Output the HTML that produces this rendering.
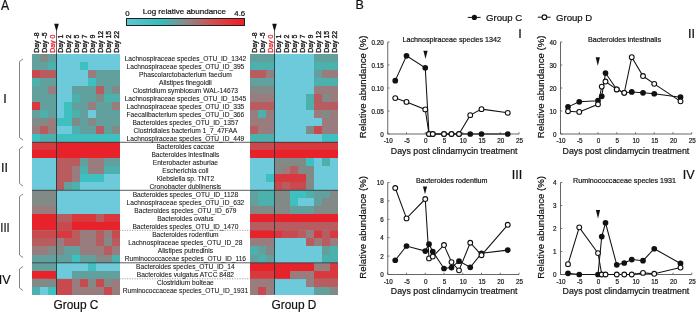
<!DOCTYPE html><html><head><meta charset="utf-8"><style>html,body{margin:0;padding:0;background:#fff;width:696px;height:312px;overflow:hidden}svg{display:block;will-change:transform}text{font-family:"Liberation Sans", sans-serif;stroke:#111;stroke-width:0.2px}</style></head><body>
<svg width="696" height="312" viewBox="0 0 696 312">
<defs><linearGradient id="cb" x1="0" x2="1" y1="0" y2="0"><stop offset="0" stop-color="#5fc6d2"/><stop offset="0.3" stop-color="#33bdb9"/><stop offset="0.5" stop-color="#8a8a8a"/><stop offset="0.75" stop-color="#d84a4a"/><stop offset="1" stop-color="#f41a22"/></linearGradient></defs>
<rect width="696" height="312" fill="#fff"/>
<text transform="translate(1,9.9) scale(0.88,1)" font-size="13.9" fill="#111">A</text>
<rect x="126.5" y="18.5" width="118" height="7" fill="url(#cb)" stroke="#222" stroke-width="1"/>
<text x="125.3" y="16" font-size="7.8" fill="#111">0</text>
<text x="142.8" y="14.2" font-size="8" fill="#111">Log relative abundance</text>
<text x="245.2" y="16" font-size="7.8" fill="#111" text-anchor="end">4.6</text>
<rect x="32" y="54.00" width="8" height="8.62" fill="#62a09e" shape-rendering="crispEdges"/>
<rect x="40" y="54.00" width="8" height="8.62" fill="#828a88" shape-rendering="crispEdges"/>
<rect x="48" y="54.00" width="8" height="8.62" fill="#62a09e" shape-rendering="crispEdges"/>
<rect x="56" y="54.00" width="8" height="8.62" fill="#6dcadb" shape-rendering="crispEdges"/>
<rect x="64" y="54.00" width="8" height="8.62" fill="#6dcadb" shape-rendering="crispEdges"/>
<rect x="72" y="54.00" width="8" height="8.62" fill="#6dcadb" shape-rendering="crispEdges"/>
<rect x="80" y="54.00" width="8" height="8.62" fill="#6dcadb" shape-rendering="crispEdges"/>
<rect x="88" y="54.00" width="8" height="8.62" fill="#6dcadb" shape-rendering="crispEdges"/>
<rect x="96" y="54.00" width="8" height="8.62" fill="#6dcadb" shape-rendering="crispEdges"/>
<rect x="104" y="54.00" width="8" height="8.62" fill="#6dcadb" shape-rendering="crispEdges"/>
<rect x="112" y="54.00" width="8" height="8.62" fill="#6dcadb" shape-rendering="crispEdges"/>
<rect x="32" y="62.02" width="8" height="8.62" fill="#62a09e" shape-rendering="crispEdges"/>
<rect x="40" y="62.02" width="8" height="8.62" fill="#62a09e" shape-rendering="crispEdges"/>
<rect x="48" y="62.02" width="8" height="8.62" fill="#4cb0ac" shape-rendering="crispEdges"/>
<rect x="56" y="62.02" width="8" height="8.62" fill="#6dcadb" shape-rendering="crispEdges"/>
<rect x="64" y="62.02" width="8" height="8.62" fill="#6dcadb" shape-rendering="crispEdges"/>
<rect x="72" y="62.02" width="8" height="8.62" fill="#6dcadb" shape-rendering="crispEdges"/>
<rect x="80" y="62.02" width="8" height="8.62" fill="#3ebfc0" shape-rendering="crispEdges"/>
<rect x="88" y="62.02" width="8" height="8.62" fill="#6dcadb" shape-rendering="crispEdges"/>
<rect x="96" y="62.02" width="8" height="8.62" fill="#6dcadb" shape-rendering="crispEdges"/>
<rect x="104" y="62.02" width="8" height="8.62" fill="#6dcadb" shape-rendering="crispEdges"/>
<rect x="112" y="62.02" width="8" height="8.62" fill="#6dcadb" shape-rendering="crispEdges"/>
<rect x="32" y="70.04" width="8" height="8.62" fill="#c84a4e" shape-rendering="crispEdges"/>
<rect x="40" y="70.04" width="8" height="8.62" fill="#b85c60" shape-rendering="crispEdges"/>
<rect x="48" y="70.04" width="8" height="8.62" fill="#b85c60" shape-rendering="crispEdges"/>
<rect x="56" y="70.04" width="8" height="8.62" fill="#6dcadb" shape-rendering="crispEdges"/>
<rect x="64" y="70.04" width="8" height="8.62" fill="#6dcadb" shape-rendering="crispEdges"/>
<rect x="72" y="70.04" width="8" height="8.62" fill="#6dcadb" shape-rendering="crispEdges"/>
<rect x="80" y="70.04" width="8" height="8.62" fill="#6dcadb" shape-rendering="crispEdges"/>
<rect x="88" y="70.04" width="8" height="8.62" fill="#987c7e" shape-rendering="crispEdges"/>
<rect x="96" y="70.04" width="8" height="8.62" fill="#62a09e" shape-rendering="crispEdges"/>
<rect x="104" y="70.04" width="8" height="8.62" fill="#62a09e" shape-rendering="crispEdges"/>
<rect x="112" y="70.04" width="8" height="8.62" fill="#62a09e" shape-rendering="crispEdges"/>
<rect x="32" y="78.06" width="8" height="8.62" fill="#4cb0ac" shape-rendering="crispEdges"/>
<rect x="40" y="78.06" width="8" height="8.62" fill="#62a09e" shape-rendering="crispEdges"/>
<rect x="48" y="78.06" width="8" height="8.62" fill="#62a09e" shape-rendering="crispEdges"/>
<rect x="56" y="78.06" width="8" height="8.62" fill="#6dcadb" shape-rendering="crispEdges"/>
<rect x="64" y="78.06" width="8" height="8.62" fill="#6dcadb" shape-rendering="crispEdges"/>
<rect x="72" y="78.06" width="8" height="8.62" fill="#6dcadb" shape-rendering="crispEdges"/>
<rect x="80" y="78.06" width="8" height="8.62" fill="#6dcadb" shape-rendering="crispEdges"/>
<rect x="88" y="78.06" width="8" height="8.62" fill="#3ebfc0" shape-rendering="crispEdges"/>
<rect x="96" y="78.06" width="8" height="8.62" fill="#62a09e" shape-rendering="crispEdges"/>
<rect x="104" y="78.06" width="8" height="8.62" fill="#62a09e" shape-rendering="crispEdges"/>
<rect x="112" y="78.06" width="8" height="8.62" fill="#62a09e" shape-rendering="crispEdges"/>
<rect x="32" y="86.08" width="8" height="8.62" fill="#62a09e" shape-rendering="crispEdges"/>
<rect x="40" y="86.08" width="8" height="8.62" fill="#62a09e" shape-rendering="crispEdges"/>
<rect x="48" y="86.08" width="8" height="8.62" fill="#987c7e" shape-rendering="crispEdges"/>
<rect x="56" y="86.08" width="8" height="8.62" fill="#6dcadb" shape-rendering="crispEdges"/>
<rect x="64" y="86.08" width="8" height="8.62" fill="#6dcadb" shape-rendering="crispEdges"/>
<rect x="72" y="86.08" width="8" height="8.62" fill="#62a09e" shape-rendering="crispEdges"/>
<rect x="80" y="86.08" width="8" height="8.62" fill="#62a09e" shape-rendering="crispEdges"/>
<rect x="88" y="86.08" width="8" height="8.62" fill="#62a09e" shape-rendering="crispEdges"/>
<rect x="96" y="86.08" width="8" height="8.62" fill="#b85c60" shape-rendering="crispEdges"/>
<rect x="104" y="86.08" width="8" height="8.62" fill="#62a09e" shape-rendering="crispEdges"/>
<rect x="112" y="86.08" width="8" height="8.62" fill="#828a88" shape-rendering="crispEdges"/>
<rect x="32" y="94.10" width="8" height="8.62" fill="#62a09e" shape-rendering="crispEdges"/>
<rect x="40" y="94.10" width="8" height="8.62" fill="#62a09e" shape-rendering="crispEdges"/>
<rect x="48" y="94.10" width="8" height="8.62" fill="#62a09e" shape-rendering="crispEdges"/>
<rect x="56" y="94.10" width="8" height="8.62" fill="#6dcadb" shape-rendering="crispEdges"/>
<rect x="64" y="94.10" width="8" height="8.62" fill="#6dcadb" shape-rendering="crispEdges"/>
<rect x="72" y="94.10" width="8" height="8.62" fill="#4cb0ac" shape-rendering="crispEdges"/>
<rect x="80" y="94.10" width="8" height="8.62" fill="#62a09e" shape-rendering="crispEdges"/>
<rect x="88" y="94.10" width="8" height="8.62" fill="#62a09e" shape-rendering="crispEdges"/>
<rect x="96" y="94.10" width="8" height="8.62" fill="#828a88" shape-rendering="crispEdges"/>
<rect x="104" y="94.10" width="8" height="8.62" fill="#4cb0ac" shape-rendering="crispEdges"/>
<rect x="112" y="94.10" width="8" height="8.62" fill="#4cb0ac" shape-rendering="crispEdges"/>
<rect x="32" y="102.12" width="8" height="8.62" fill="#d8383e" shape-rendering="crispEdges"/>
<rect x="40" y="102.12" width="8" height="8.62" fill="#62a09e" shape-rendering="crispEdges"/>
<rect x="48" y="102.12" width="8" height="8.62" fill="#62a09e" shape-rendering="crispEdges"/>
<rect x="56" y="102.12" width="8" height="8.62" fill="#6dcadb" shape-rendering="crispEdges"/>
<rect x="64" y="102.12" width="8" height="8.62" fill="#3ebfc0" shape-rendering="crispEdges"/>
<rect x="72" y="102.12" width="8" height="8.62" fill="#62a09e" shape-rendering="crispEdges"/>
<rect x="80" y="102.12" width="8" height="8.62" fill="#62a09e" shape-rendering="crispEdges"/>
<rect x="88" y="102.12" width="8" height="8.62" fill="#987c7e" shape-rendering="crispEdges"/>
<rect x="96" y="102.12" width="8" height="8.62" fill="#62a09e" shape-rendering="crispEdges"/>
<rect x="104" y="102.12" width="8" height="8.62" fill="#62a09e" shape-rendering="crispEdges"/>
<rect x="112" y="102.12" width="8" height="8.62" fill="#987c7e" shape-rendering="crispEdges"/>
<rect x="32" y="110.14" width="8" height="8.62" fill="#62a09e" shape-rendering="crispEdges"/>
<rect x="40" y="110.14" width="8" height="8.62" fill="#4cb0ac" shape-rendering="crispEdges"/>
<rect x="48" y="110.14" width="8" height="8.62" fill="#62a09e" shape-rendering="crispEdges"/>
<rect x="56" y="110.14" width="8" height="8.62" fill="#6dcadb" shape-rendering="crispEdges"/>
<rect x="64" y="110.14" width="8" height="8.62" fill="#3ebfc0" shape-rendering="crispEdges"/>
<rect x="72" y="110.14" width="8" height="8.62" fill="#4cb0ac" shape-rendering="crispEdges"/>
<rect x="80" y="110.14" width="8" height="8.62" fill="#62a09e" shape-rendering="crispEdges"/>
<rect x="88" y="110.14" width="8" height="8.62" fill="#6dcadb" shape-rendering="crispEdges"/>
<rect x="96" y="110.14" width="8" height="8.62" fill="#62a09e" shape-rendering="crispEdges"/>
<rect x="104" y="110.14" width="8" height="8.62" fill="#62a09e" shape-rendering="crispEdges"/>
<rect x="112" y="110.14" width="8" height="8.62" fill="#62a09e" shape-rendering="crispEdges"/>
<rect x="32" y="118.16" width="8" height="8.62" fill="#828a88" shape-rendering="crispEdges"/>
<rect x="40" y="118.16" width="8" height="8.62" fill="#828a88" shape-rendering="crispEdges"/>
<rect x="48" y="118.16" width="8" height="8.62" fill="#987c7e" shape-rendering="crispEdges"/>
<rect x="56" y="118.16" width="8" height="8.62" fill="#3ebfc0" shape-rendering="crispEdges"/>
<rect x="64" y="118.16" width="8" height="8.62" fill="#3ebfc0" shape-rendering="crispEdges"/>
<rect x="72" y="118.16" width="8" height="8.62" fill="#828a88" shape-rendering="crispEdges"/>
<rect x="80" y="118.16" width="8" height="8.62" fill="#62a09e" shape-rendering="crispEdges"/>
<rect x="88" y="118.16" width="8" height="8.62" fill="#828a88" shape-rendering="crispEdges"/>
<rect x="96" y="118.16" width="8" height="8.62" fill="#62a09e" shape-rendering="crispEdges"/>
<rect x="104" y="118.16" width="8" height="8.62" fill="#62a09e" shape-rendering="crispEdges"/>
<rect x="112" y="118.16" width="8" height="8.62" fill="#62a09e" shape-rendering="crispEdges"/>
<rect x="32" y="126.18" width="8" height="8.62" fill="#987c7e" shape-rendering="crispEdges"/>
<rect x="40" y="126.18" width="8" height="8.62" fill="#b85c60" shape-rendering="crispEdges"/>
<rect x="48" y="126.18" width="8" height="8.62" fill="#987c7e" shape-rendering="crispEdges"/>
<rect x="56" y="126.18" width="8" height="8.62" fill="#6dcadb" shape-rendering="crispEdges"/>
<rect x="64" y="126.18" width="8" height="8.62" fill="#6dcadb" shape-rendering="crispEdges"/>
<rect x="72" y="126.18" width="8" height="8.62" fill="#4cb0ac" shape-rendering="crispEdges"/>
<rect x="80" y="126.18" width="8" height="8.62" fill="#62a09e" shape-rendering="crispEdges"/>
<rect x="88" y="126.18" width="8" height="8.62" fill="#62a09e" shape-rendering="crispEdges"/>
<rect x="96" y="126.18" width="8" height="8.62" fill="#b85c60" shape-rendering="crispEdges"/>
<rect x="104" y="126.18" width="8" height="8.62" fill="#62a09e" shape-rendering="crispEdges"/>
<rect x="112" y="126.18" width="8" height="8.62" fill="#828a88" shape-rendering="crispEdges"/>
<rect x="32" y="134.20" width="8" height="8.62" fill="#3ebfc0" shape-rendering="crispEdges"/>
<rect x="40" y="134.20" width="8" height="8.62" fill="#4cb0ac" shape-rendering="crispEdges"/>
<rect x="48" y="134.20" width="8" height="8.62" fill="#4cb0ac" shape-rendering="crispEdges"/>
<rect x="56" y="134.20" width="8" height="8.62" fill="#3ebfc0" shape-rendering="crispEdges"/>
<rect x="64" y="134.20" width="8" height="8.62" fill="#3ebfc0" shape-rendering="crispEdges"/>
<rect x="72" y="134.20" width="8" height="8.62" fill="#3ebfc0" shape-rendering="crispEdges"/>
<rect x="80" y="134.20" width="8" height="8.62" fill="#3ebfc0" shape-rendering="crispEdges"/>
<rect x="88" y="134.20" width="8" height="8.62" fill="#3ebfc0" shape-rendering="crispEdges"/>
<rect x="96" y="134.20" width="8" height="8.62" fill="#3ebfc0" shape-rendering="crispEdges"/>
<rect x="104" y="134.20" width="8" height="8.62" fill="#3ebfc0" shape-rendering="crispEdges"/>
<rect x="112" y="134.20" width="8" height="8.62" fill="#3ebfc0" shape-rendering="crispEdges"/>
<rect x="32" y="142.22" width="8" height="8.62" fill="#d8383e" shape-rendering="crispEdges"/>
<rect x="40" y="142.22" width="8" height="8.62" fill="#d8383e" shape-rendering="crispEdges"/>
<rect x="48" y="142.22" width="8" height="8.62" fill="#d8383e" shape-rendering="crispEdges"/>
<rect x="56" y="142.22" width="8" height="8.62" fill="#e8222a" shape-rendering="crispEdges"/>
<rect x="64" y="142.22" width="8" height="8.62" fill="#e8222a" shape-rendering="crispEdges"/>
<rect x="72" y="142.22" width="8" height="8.62" fill="#e8222a" shape-rendering="crispEdges"/>
<rect x="80" y="142.22" width="8" height="8.62" fill="#e8222a" shape-rendering="crispEdges"/>
<rect x="88" y="142.22" width="8" height="8.62" fill="#e8222a" shape-rendering="crispEdges"/>
<rect x="96" y="142.22" width="8" height="8.62" fill="#e8222a" shape-rendering="crispEdges"/>
<rect x="104" y="142.22" width="8" height="8.62" fill="#e8222a" shape-rendering="crispEdges"/>
<rect x="112" y="142.22" width="8" height="8.62" fill="#e8222a" shape-rendering="crispEdges"/>
<rect x="32" y="150.24" width="8" height="8.62" fill="#e8222a" shape-rendering="crispEdges"/>
<rect x="40" y="150.24" width="8" height="8.62" fill="#e8222a" shape-rendering="crispEdges"/>
<rect x="48" y="150.24" width="8" height="8.62" fill="#e8222a" shape-rendering="crispEdges"/>
<rect x="56" y="150.24" width="8" height="8.62" fill="#e8222a" shape-rendering="crispEdges"/>
<rect x="64" y="150.24" width="8" height="8.62" fill="#e8222a" shape-rendering="crispEdges"/>
<rect x="72" y="150.24" width="8" height="8.62" fill="#e8222a" shape-rendering="crispEdges"/>
<rect x="80" y="150.24" width="8" height="8.62" fill="#e8222a" shape-rendering="crispEdges"/>
<rect x="88" y="150.24" width="8" height="8.62" fill="#e8222a" shape-rendering="crispEdges"/>
<rect x="96" y="150.24" width="8" height="8.62" fill="#e8222a" shape-rendering="crispEdges"/>
<rect x="104" y="150.24" width="8" height="8.62" fill="#e8222a" shape-rendering="crispEdges"/>
<rect x="112" y="150.24" width="8" height="8.62" fill="#e8222a" shape-rendering="crispEdges"/>
<rect x="32" y="158.26" width="8" height="8.62" fill="#6dcadb" shape-rendering="crispEdges"/>
<rect x="40" y="158.26" width="8" height="8.62" fill="#6dcadb" shape-rendering="crispEdges"/>
<rect x="48" y="158.26" width="8" height="8.62" fill="#6dcadb" shape-rendering="crispEdges"/>
<rect x="56" y="158.26" width="8" height="8.62" fill="#b85c60" shape-rendering="crispEdges"/>
<rect x="64" y="158.26" width="8" height="8.62" fill="#b85c60" shape-rendering="crispEdges"/>
<rect x="72" y="158.26" width="8" height="8.62" fill="#b85c60" shape-rendering="crispEdges"/>
<rect x="80" y="158.26" width="8" height="8.62" fill="#62a09e" shape-rendering="crispEdges"/>
<rect x="88" y="158.26" width="8" height="8.62" fill="#987c7e" shape-rendering="crispEdges"/>
<rect x="96" y="158.26" width="8" height="8.62" fill="#987c7e" shape-rendering="crispEdges"/>
<rect x="104" y="158.26" width="8" height="8.62" fill="#62a09e" shape-rendering="crispEdges"/>
<rect x="112" y="158.26" width="8" height="8.62" fill="#62a09e" shape-rendering="crispEdges"/>
<rect x="32" y="166.28" width="8" height="8.62" fill="#6dcadb" shape-rendering="crispEdges"/>
<rect x="40" y="166.28" width="8" height="8.62" fill="#6dcadb" shape-rendering="crispEdges"/>
<rect x="48" y="166.28" width="8" height="8.62" fill="#6dcadb" shape-rendering="crispEdges"/>
<rect x="56" y="166.28" width="8" height="8.62" fill="#b85c60" shape-rendering="crispEdges"/>
<rect x="64" y="166.28" width="8" height="8.62" fill="#b85c60" shape-rendering="crispEdges"/>
<rect x="72" y="166.28" width="8" height="8.62" fill="#987c7e" shape-rendering="crispEdges"/>
<rect x="80" y="166.28" width="8" height="8.62" fill="#4cb0ac" shape-rendering="crispEdges"/>
<rect x="88" y="166.28" width="8" height="8.62" fill="#987c7e" shape-rendering="crispEdges"/>
<rect x="96" y="166.28" width="8" height="8.62" fill="#987c7e" shape-rendering="crispEdges"/>
<rect x="104" y="166.28" width="8" height="8.62" fill="#4cb0ac" shape-rendering="crispEdges"/>
<rect x="112" y="166.28" width="8" height="8.62" fill="#4cb0ac" shape-rendering="crispEdges"/>
<rect x="32" y="174.30" width="8" height="8.62" fill="#6dcadb" shape-rendering="crispEdges"/>
<rect x="40" y="174.30" width="8" height="8.62" fill="#6dcadb" shape-rendering="crispEdges"/>
<rect x="48" y="174.30" width="8" height="8.62" fill="#6dcadb" shape-rendering="crispEdges"/>
<rect x="56" y="174.30" width="8" height="8.62" fill="#b85c60" shape-rendering="crispEdges"/>
<rect x="64" y="174.30" width="8" height="8.62" fill="#b85c60" shape-rendering="crispEdges"/>
<rect x="72" y="174.30" width="8" height="8.62" fill="#987c7e" shape-rendering="crispEdges"/>
<rect x="80" y="174.30" width="8" height="8.62" fill="#3ebfc0" shape-rendering="crispEdges"/>
<rect x="88" y="174.30" width="8" height="8.62" fill="#3ebfc0" shape-rendering="crispEdges"/>
<rect x="96" y="174.30" width="8" height="8.62" fill="#3ebfc0" shape-rendering="crispEdges"/>
<rect x="104" y="174.30" width="8" height="8.62" fill="#6dcadb" shape-rendering="crispEdges"/>
<rect x="112" y="174.30" width="8" height="8.62" fill="#6dcadb" shape-rendering="crispEdges"/>
<rect x="32" y="182.32" width="8" height="8.62" fill="#6dcadb" shape-rendering="crispEdges"/>
<rect x="40" y="182.32" width="8" height="8.62" fill="#6dcadb" shape-rendering="crispEdges"/>
<rect x="48" y="182.32" width="8" height="8.62" fill="#6dcadb" shape-rendering="crispEdges"/>
<rect x="56" y="182.32" width="8" height="8.62" fill="#b85c60" shape-rendering="crispEdges"/>
<rect x="64" y="182.32" width="8" height="8.62" fill="#62a09e" shape-rendering="crispEdges"/>
<rect x="72" y="182.32" width="8" height="8.62" fill="#4cb0ac" shape-rendering="crispEdges"/>
<rect x="80" y="182.32" width="8" height="8.62" fill="#6dcadb" shape-rendering="crispEdges"/>
<rect x="88" y="182.32" width="8" height="8.62" fill="#6dcadb" shape-rendering="crispEdges"/>
<rect x="96" y="182.32" width="8" height="8.62" fill="#6dcadb" shape-rendering="crispEdges"/>
<rect x="104" y="182.32" width="8" height="8.62" fill="#6dcadb" shape-rendering="crispEdges"/>
<rect x="112" y="182.32" width="8" height="8.62" fill="#6dcadb" shape-rendering="crispEdges"/>
<rect x="32" y="190.34" width="8" height="8.62" fill="#828a88" shape-rendering="crispEdges"/>
<rect x="40" y="190.34" width="8" height="8.62" fill="#828a88" shape-rendering="crispEdges"/>
<rect x="48" y="190.34" width="8" height="8.62" fill="#828a88" shape-rendering="crispEdges"/>
<rect x="56" y="190.34" width="8" height="8.62" fill="#6dcadb" shape-rendering="crispEdges"/>
<rect x="64" y="190.34" width="8" height="8.62" fill="#6dcadb" shape-rendering="crispEdges"/>
<rect x="72" y="190.34" width="8" height="8.62" fill="#6dcadb" shape-rendering="crispEdges"/>
<rect x="80" y="190.34" width="8" height="8.62" fill="#6dcadb" shape-rendering="crispEdges"/>
<rect x="88" y="190.34" width="8" height="8.62" fill="#6dcadb" shape-rendering="crispEdges"/>
<rect x="96" y="190.34" width="8" height="8.62" fill="#6dcadb" shape-rendering="crispEdges"/>
<rect x="104" y="190.34" width="8" height="8.62" fill="#6dcadb" shape-rendering="crispEdges"/>
<rect x="112" y="190.34" width="8" height="8.62" fill="#6dcadb" shape-rendering="crispEdges"/>
<rect x="32" y="198.36" width="8" height="8.62" fill="#828a88" shape-rendering="crispEdges"/>
<rect x="40" y="198.36" width="8" height="8.62" fill="#828a88" shape-rendering="crispEdges"/>
<rect x="48" y="198.36" width="8" height="8.62" fill="#828a88" shape-rendering="crispEdges"/>
<rect x="56" y="198.36" width="8" height="8.62" fill="#6dcadb" shape-rendering="crispEdges"/>
<rect x="64" y="198.36" width="8" height="8.62" fill="#6dcadb" shape-rendering="crispEdges"/>
<rect x="72" y="198.36" width="8" height="8.62" fill="#6dcadb" shape-rendering="crispEdges"/>
<rect x="80" y="198.36" width="8" height="8.62" fill="#6dcadb" shape-rendering="crispEdges"/>
<rect x="88" y="198.36" width="8" height="8.62" fill="#6dcadb" shape-rendering="crispEdges"/>
<rect x="96" y="198.36" width="8" height="8.62" fill="#6dcadb" shape-rendering="crispEdges"/>
<rect x="104" y="198.36" width="8" height="8.62" fill="#6dcadb" shape-rendering="crispEdges"/>
<rect x="112" y="198.36" width="8" height="8.62" fill="#6dcadb" shape-rendering="crispEdges"/>
<rect x="32" y="206.38" width="8" height="8.62" fill="#987c7e" shape-rendering="crispEdges"/>
<rect x="40" y="206.38" width="8" height="8.62" fill="#987c7e" shape-rendering="crispEdges"/>
<rect x="48" y="206.38" width="8" height="8.62" fill="#987c7e" shape-rendering="crispEdges"/>
<rect x="56" y="206.38" width="8" height="8.62" fill="#6dcadb" shape-rendering="crispEdges"/>
<rect x="64" y="206.38" width="8" height="8.62" fill="#6dcadb" shape-rendering="crispEdges"/>
<rect x="72" y="206.38" width="8" height="8.62" fill="#6dcadb" shape-rendering="crispEdges"/>
<rect x="80" y="206.38" width="8" height="8.62" fill="#6dcadb" shape-rendering="crispEdges"/>
<rect x="88" y="206.38" width="8" height="8.62" fill="#6dcadb" shape-rendering="crispEdges"/>
<rect x="96" y="206.38" width="8" height="8.62" fill="#6dcadb" shape-rendering="crispEdges"/>
<rect x="104" y="206.38" width="8" height="8.62" fill="#6dcadb" shape-rendering="crispEdges"/>
<rect x="112" y="206.38" width="8" height="8.62" fill="#6dcadb" shape-rendering="crispEdges"/>
<rect x="32" y="214.40" width="8" height="8.62" fill="#e8222a" shape-rendering="crispEdges"/>
<rect x="40" y="214.40" width="8" height="8.62" fill="#e8222a" shape-rendering="crispEdges"/>
<rect x="48" y="214.40" width="8" height="8.62" fill="#e8222a" shape-rendering="crispEdges"/>
<rect x="56" y="214.40" width="8" height="8.62" fill="#b85c60" shape-rendering="crispEdges"/>
<rect x="64" y="214.40" width="8" height="8.62" fill="#b85c60" shape-rendering="crispEdges"/>
<rect x="72" y="214.40" width="8" height="8.62" fill="#d8383e" shape-rendering="crispEdges"/>
<rect x="80" y="214.40" width="8" height="8.62" fill="#d8383e" shape-rendering="crispEdges"/>
<rect x="88" y="214.40" width="8" height="8.62" fill="#d8383e" shape-rendering="crispEdges"/>
<rect x="96" y="214.40" width="8" height="8.62" fill="#b85c60" shape-rendering="crispEdges"/>
<rect x="104" y="214.40" width="8" height="8.62" fill="#d8383e" shape-rendering="crispEdges"/>
<rect x="112" y="214.40" width="8" height="8.62" fill="#d8383e" shape-rendering="crispEdges"/>
<rect x="32" y="222.42" width="8" height="8.62" fill="#e8222a" shape-rendering="crispEdges"/>
<rect x="40" y="222.42" width="8" height="8.62" fill="#e8222a" shape-rendering="crispEdges"/>
<rect x="48" y="222.42" width="8" height="8.62" fill="#e8222a" shape-rendering="crispEdges"/>
<rect x="56" y="222.42" width="8" height="8.62" fill="#c84a4e" shape-rendering="crispEdges"/>
<rect x="64" y="222.42" width="8" height="8.62" fill="#c84a4e" shape-rendering="crispEdges"/>
<rect x="72" y="222.42" width="8" height="8.62" fill="#e8222a" shape-rendering="crispEdges"/>
<rect x="80" y="222.42" width="8" height="8.62" fill="#e8222a" shape-rendering="crispEdges"/>
<rect x="88" y="222.42" width="8" height="8.62" fill="#e8222a" shape-rendering="crispEdges"/>
<rect x="96" y="222.42" width="8" height="8.62" fill="#e8222a" shape-rendering="crispEdges"/>
<rect x="104" y="222.42" width="8" height="8.62" fill="#e8222a" shape-rendering="crispEdges"/>
<rect x="112" y="222.42" width="8" height="8.62" fill="#e8222a" shape-rendering="crispEdges"/>
<rect x="32" y="230.44" width="8" height="8.62" fill="#c84a4e" shape-rendering="crispEdges"/>
<rect x="40" y="230.44" width="8" height="8.62" fill="#c84a4e" shape-rendering="crispEdges"/>
<rect x="48" y="230.44" width="8" height="8.62" fill="#c84a4e" shape-rendering="crispEdges"/>
<rect x="56" y="230.44" width="8" height="8.62" fill="#d8383e" shape-rendering="crispEdges"/>
<rect x="64" y="230.44" width="8" height="8.62" fill="#d8383e" shape-rendering="crispEdges"/>
<rect x="72" y="230.44" width="8" height="8.62" fill="#b85c60" shape-rendering="crispEdges"/>
<rect x="80" y="230.44" width="8" height="8.62" fill="#987c7e" shape-rendering="crispEdges"/>
<rect x="88" y="230.44" width="8" height="8.62" fill="#987c7e" shape-rendering="crispEdges"/>
<rect x="96" y="230.44" width="8" height="8.62" fill="#b85c60" shape-rendering="crispEdges"/>
<rect x="104" y="230.44" width="8" height="8.62" fill="#987c7e" shape-rendering="crispEdges"/>
<rect x="112" y="230.44" width="8" height="8.62" fill="#c84a4e" shape-rendering="crispEdges"/>
<rect x="32" y="238.46" width="8" height="8.62" fill="#b85c60" shape-rendering="crispEdges"/>
<rect x="40" y="238.46" width="8" height="8.62" fill="#b85c60" shape-rendering="crispEdges"/>
<rect x="48" y="238.46" width="8" height="8.62" fill="#b85c60" shape-rendering="crispEdges"/>
<rect x="56" y="238.46" width="8" height="8.62" fill="#987c7e" shape-rendering="crispEdges"/>
<rect x="64" y="238.46" width="8" height="8.62" fill="#b85c60" shape-rendering="crispEdges"/>
<rect x="72" y="238.46" width="8" height="8.62" fill="#b85c60" shape-rendering="crispEdges"/>
<rect x="80" y="238.46" width="8" height="8.62" fill="#987c7e" shape-rendering="crispEdges"/>
<rect x="88" y="238.46" width="8" height="8.62" fill="#987c7e" shape-rendering="crispEdges"/>
<rect x="96" y="238.46" width="8" height="8.62" fill="#b85c60" shape-rendering="crispEdges"/>
<rect x="104" y="238.46" width="8" height="8.62" fill="#828a88" shape-rendering="crispEdges"/>
<rect x="112" y="238.46" width="8" height="8.62" fill="#b85c60" shape-rendering="crispEdges"/>
<rect x="32" y="246.48" width="8" height="8.62" fill="#987c7e" shape-rendering="crispEdges"/>
<rect x="40" y="246.48" width="8" height="8.62" fill="#987c7e" shape-rendering="crispEdges"/>
<rect x="48" y="246.48" width="8" height="8.62" fill="#828a88" shape-rendering="crispEdges"/>
<rect x="56" y="246.48" width="8" height="8.62" fill="#828a88" shape-rendering="crispEdges"/>
<rect x="64" y="246.48" width="8" height="8.62" fill="#62a09e" shape-rendering="crispEdges"/>
<rect x="72" y="246.48" width="8" height="8.62" fill="#62a09e" shape-rendering="crispEdges"/>
<rect x="80" y="246.48" width="8" height="8.62" fill="#987c7e" shape-rendering="crispEdges"/>
<rect x="88" y="246.48" width="8" height="8.62" fill="#987c7e" shape-rendering="crispEdges"/>
<rect x="96" y="246.48" width="8" height="8.62" fill="#987c7e" shape-rendering="crispEdges"/>
<rect x="104" y="246.48" width="8" height="8.62" fill="#b85c60" shape-rendering="crispEdges"/>
<rect x="112" y="246.48" width="8" height="8.62" fill="#987c7e" shape-rendering="crispEdges"/>
<rect x="32" y="254.50" width="8" height="8.62" fill="#62a09e" shape-rendering="crispEdges"/>
<rect x="40" y="254.50" width="8" height="8.62" fill="#62a09e" shape-rendering="crispEdges"/>
<rect x="48" y="254.50" width="8" height="8.62" fill="#62a09e" shape-rendering="crispEdges"/>
<rect x="56" y="254.50" width="8" height="8.62" fill="#62a09e" shape-rendering="crispEdges"/>
<rect x="64" y="254.50" width="8" height="8.62" fill="#62a09e" shape-rendering="crispEdges"/>
<rect x="72" y="254.50" width="8" height="8.62" fill="#3ebfc0" shape-rendering="crispEdges"/>
<rect x="80" y="254.50" width="8" height="8.62" fill="#62a09e" shape-rendering="crispEdges"/>
<rect x="88" y="254.50" width="8" height="8.62" fill="#62a09e" shape-rendering="crispEdges"/>
<rect x="96" y="254.50" width="8" height="8.62" fill="#828a88" shape-rendering="crispEdges"/>
<rect x="104" y="254.50" width="8" height="8.62" fill="#828a88" shape-rendering="crispEdges"/>
<rect x="112" y="254.50" width="8" height="8.62" fill="#4cb0ac" shape-rendering="crispEdges"/>
<rect x="32" y="262.52" width="8" height="8.62" fill="#62a09e" shape-rendering="crispEdges"/>
<rect x="40" y="262.52" width="8" height="8.62" fill="#62a09e" shape-rendering="crispEdges"/>
<rect x="48" y="262.52" width="8" height="8.62" fill="#62a09e" shape-rendering="crispEdges"/>
<rect x="56" y="262.52" width="8" height="8.62" fill="#6dcadb" shape-rendering="crispEdges"/>
<rect x="64" y="262.52" width="8" height="8.62" fill="#6dcadb" shape-rendering="crispEdges"/>
<rect x="72" y="262.52" width="8" height="8.62" fill="#6dcadb" shape-rendering="crispEdges"/>
<rect x="80" y="262.52" width="8" height="8.62" fill="#6dcadb" shape-rendering="crispEdges"/>
<rect x="88" y="262.52" width="8" height="8.62" fill="#3ebfc0" shape-rendering="crispEdges"/>
<rect x="96" y="262.52" width="8" height="8.62" fill="#6dcadb" shape-rendering="crispEdges"/>
<rect x="104" y="262.52" width="8" height="8.62" fill="#6dcadb" shape-rendering="crispEdges"/>
<rect x="112" y="262.52" width="8" height="8.62" fill="#6dcadb" shape-rendering="crispEdges"/>
<rect x="32" y="270.54" width="8" height="8.62" fill="#e8222a" shape-rendering="crispEdges"/>
<rect x="40" y="270.54" width="8" height="8.62" fill="#e8222a" shape-rendering="crispEdges"/>
<rect x="48" y="270.54" width="8" height="8.62" fill="#e8222a" shape-rendering="crispEdges"/>
<rect x="56" y="270.54" width="8" height="8.62" fill="#6dcadb" shape-rendering="crispEdges"/>
<rect x="64" y="270.54" width="8" height="8.62" fill="#6dcadb" shape-rendering="crispEdges"/>
<rect x="72" y="270.54" width="8" height="8.62" fill="#62a09e" shape-rendering="crispEdges"/>
<rect x="80" y="270.54" width="8" height="8.62" fill="#62a09e" shape-rendering="crispEdges"/>
<rect x="88" y="270.54" width="8" height="8.62" fill="#62a09e" shape-rendering="crispEdges"/>
<rect x="96" y="270.54" width="8" height="8.62" fill="#62a09e" shape-rendering="crispEdges"/>
<rect x="104" y="270.54" width="8" height="8.62" fill="#62a09e" shape-rendering="crispEdges"/>
<rect x="112" y="270.54" width="8" height="8.62" fill="#62a09e" shape-rendering="crispEdges"/>
<rect x="32" y="278.56" width="8" height="8.62" fill="#828a88" shape-rendering="crispEdges"/>
<rect x="40" y="278.56" width="8" height="8.62" fill="#828a88" shape-rendering="crispEdges"/>
<rect x="48" y="278.56" width="8" height="8.62" fill="#828a88" shape-rendering="crispEdges"/>
<rect x="56" y="278.56" width="8" height="8.62" fill="#c84a4e" shape-rendering="crispEdges"/>
<rect x="64" y="278.56" width="8" height="8.62" fill="#c84a4e" shape-rendering="crispEdges"/>
<rect x="72" y="278.56" width="8" height="8.62" fill="#987c7e" shape-rendering="crispEdges"/>
<rect x="80" y="278.56" width="8" height="8.62" fill="#c84a4e" shape-rendering="crispEdges"/>
<rect x="88" y="278.56" width="8" height="8.62" fill="#828a88" shape-rendering="crispEdges"/>
<rect x="96" y="278.56" width="8" height="8.62" fill="#c84a4e" shape-rendering="crispEdges"/>
<rect x="104" y="278.56" width="8" height="8.62" fill="#828a88" shape-rendering="crispEdges"/>
<rect x="112" y="278.56" width="8" height="8.62" fill="#987c7e" shape-rendering="crispEdges"/>
<rect x="32" y="286.58" width="8" height="8.02" fill="#4cb0ac" shape-rendering="crispEdges"/>
<rect x="40" y="286.58" width="8" height="8.02" fill="#6dcadb" shape-rendering="crispEdges"/>
<rect x="48" y="286.58" width="8" height="8.02" fill="#3ebfc0" shape-rendering="crispEdges"/>
<rect x="56" y="286.58" width="8" height="8.02" fill="#c84a4e" shape-rendering="crispEdges"/>
<rect x="64" y="286.58" width="8" height="8.02" fill="#c84a4e" shape-rendering="crispEdges"/>
<rect x="72" y="286.58" width="8" height="8.02" fill="#987c7e" shape-rendering="crispEdges"/>
<rect x="80" y="286.58" width="8" height="8.02" fill="#987c7e" shape-rendering="crispEdges"/>
<rect x="88" y="286.58" width="8" height="8.02" fill="#987c7e" shape-rendering="crispEdges"/>
<rect x="96" y="286.58" width="8" height="8.02" fill="#987c7e" shape-rendering="crispEdges"/>
<rect x="104" y="286.58" width="8" height="8.02" fill="#c84a4e" shape-rendering="crispEdges"/>
<rect x="112" y="286.58" width="8" height="8.02" fill="#987c7e" shape-rendering="crispEdges"/>
<text transform="translate(38.60,52.7) rotate(-90)" font-size="6.9" fill="#111" style="stroke:#111;stroke-width:0.3px">Day -8</text>
<text transform="translate(46.60,52.7) rotate(-90)" font-size="6.9" fill="#111" style="stroke:#111;stroke-width:0.3px">Day -5</text>
<text transform="translate(54.60,52.7) rotate(-90)" font-size="6.9" fill="#e8202a" style="stroke:#e8202a;stroke-width:0.3px">Day 0</text>
<text transform="translate(62.60,52.7) rotate(-90)" font-size="6.9" fill="#111" style="stroke:#111;stroke-width:0.3px">Day 1</text>
<text transform="translate(70.60,52.7) rotate(-90)" font-size="6.9" fill="#111" style="stroke:#111;stroke-width:0.3px">Day 2</text>
<text transform="translate(78.60,52.7) rotate(-90)" font-size="6.9" fill="#111" style="stroke:#111;stroke-width:0.3px">Day 5</text>
<text transform="translate(86.60,52.7) rotate(-90)" font-size="6.9" fill="#111" style="stroke:#111;stroke-width:0.3px">Day 7</text>
<text transform="translate(94.60,52.7) rotate(-90)" font-size="6.9" fill="#111" style="stroke:#111;stroke-width:0.3px">Day 9</text>
<text transform="translate(102.60,52.7) rotate(-90)" font-size="6.9" fill="#111" style="stroke:#111;stroke-width:0.3px">Day 12</text>
<text transform="translate(110.60,52.7) rotate(-90)" font-size="6.9" fill="#111" style="stroke:#111;stroke-width:0.3px">Day 15</text>
<text transform="translate(118.60,52.7) rotate(-90)" font-size="6.9" fill="#111" style="stroke:#111;stroke-width:0.3px">Day 22</text>
<path d="M54.20 23.8 L58.80 23.8 L56.50 32 Z" fill="#111"/>
<line x1="56.50" y1="30" x2="56.50" y2="54" stroke="#555" stroke-width="0.9"/>
<line x1="56.50" y1="54" x2="56.50" y2="294.6" stroke="#1e3a40" stroke-width="0.9"/>
<rect x="250" y="54.00" width="8" height="8.62" fill="#62a09e" shape-rendering="crispEdges"/>
<rect x="258" y="54.00" width="8" height="8.62" fill="#62a09e" shape-rendering="crispEdges"/>
<rect x="266" y="54.00" width="8" height="8.62" fill="#62a09e" shape-rendering="crispEdges"/>
<rect x="274" y="54.00" width="8" height="8.62" fill="#6dcadb" shape-rendering="crispEdges"/>
<rect x="282" y="54.00" width="8" height="8.62" fill="#6dcadb" shape-rendering="crispEdges"/>
<rect x="290" y="54.00" width="8" height="8.62" fill="#6dcadb" shape-rendering="crispEdges"/>
<rect x="298" y="54.00" width="8" height="8.62" fill="#6dcadb" shape-rendering="crispEdges"/>
<rect x="306" y="54.00" width="8" height="8.62" fill="#6dcadb" shape-rendering="crispEdges"/>
<rect x="314" y="54.00" width="8" height="8.62" fill="#62a09e" shape-rendering="crispEdges"/>
<rect x="322" y="54.00" width="8" height="8.62" fill="#62a09e" shape-rendering="crispEdges"/>
<rect x="330" y="54.00" width="8" height="8.62" fill="#62a09e" shape-rendering="crispEdges"/>
<rect x="250" y="62.02" width="8" height="8.62" fill="#4cb0ac" shape-rendering="crispEdges"/>
<rect x="258" y="62.02" width="8" height="8.62" fill="#4cb0ac" shape-rendering="crispEdges"/>
<rect x="266" y="62.02" width="8" height="8.62" fill="#4cb0ac" shape-rendering="crispEdges"/>
<rect x="274" y="62.02" width="8" height="8.62" fill="#6dcadb" shape-rendering="crispEdges"/>
<rect x="282" y="62.02" width="8" height="8.62" fill="#6dcadb" shape-rendering="crispEdges"/>
<rect x="290" y="62.02" width="8" height="8.62" fill="#6dcadb" shape-rendering="crispEdges"/>
<rect x="298" y="62.02" width="8" height="8.62" fill="#6dcadb" shape-rendering="crispEdges"/>
<rect x="306" y="62.02" width="8" height="8.62" fill="#6dcadb" shape-rendering="crispEdges"/>
<rect x="314" y="62.02" width="8" height="8.62" fill="#4cb0ac" shape-rendering="crispEdges"/>
<rect x="322" y="62.02" width="8" height="8.62" fill="#4cb0ac" shape-rendering="crispEdges"/>
<rect x="330" y="62.02" width="8" height="8.62" fill="#4cb0ac" shape-rendering="crispEdges"/>
<rect x="250" y="70.04" width="8" height="8.62" fill="#b85c60" shape-rendering="crispEdges"/>
<rect x="258" y="70.04" width="8" height="8.62" fill="#b85c60" shape-rendering="crispEdges"/>
<rect x="266" y="70.04" width="8" height="8.62" fill="#987c7e" shape-rendering="crispEdges"/>
<rect x="274" y="70.04" width="8" height="8.62" fill="#6dcadb" shape-rendering="crispEdges"/>
<rect x="282" y="70.04" width="8" height="8.62" fill="#6dcadb" shape-rendering="crispEdges"/>
<rect x="290" y="70.04" width="8" height="8.62" fill="#6dcadb" shape-rendering="crispEdges"/>
<rect x="298" y="70.04" width="8" height="8.62" fill="#6dcadb" shape-rendering="crispEdges"/>
<rect x="306" y="70.04" width="8" height="8.62" fill="#6dcadb" shape-rendering="crispEdges"/>
<rect x="314" y="70.04" width="8" height="8.62" fill="#62a09e" shape-rendering="crispEdges"/>
<rect x="322" y="70.04" width="8" height="8.62" fill="#987c7e" shape-rendering="crispEdges"/>
<rect x="330" y="70.04" width="8" height="8.62" fill="#987c7e" shape-rendering="crispEdges"/>
<rect x="250" y="78.06" width="8" height="8.62" fill="#62a09e" shape-rendering="crispEdges"/>
<rect x="258" y="78.06" width="8" height="8.62" fill="#62a09e" shape-rendering="crispEdges"/>
<rect x="266" y="78.06" width="8" height="8.62" fill="#62a09e" shape-rendering="crispEdges"/>
<rect x="274" y="78.06" width="8" height="8.62" fill="#6dcadb" shape-rendering="crispEdges"/>
<rect x="282" y="78.06" width="8" height="8.62" fill="#6dcadb" shape-rendering="crispEdges"/>
<rect x="290" y="78.06" width="8" height="8.62" fill="#6dcadb" shape-rendering="crispEdges"/>
<rect x="298" y="78.06" width="8" height="8.62" fill="#6dcadb" shape-rendering="crispEdges"/>
<rect x="306" y="78.06" width="8" height="8.62" fill="#6dcadb" shape-rendering="crispEdges"/>
<rect x="314" y="78.06" width="8" height="8.62" fill="#4cb0ac" shape-rendering="crispEdges"/>
<rect x="322" y="78.06" width="8" height="8.62" fill="#4cb0ac" shape-rendering="crispEdges"/>
<rect x="330" y="78.06" width="8" height="8.62" fill="#4cb0ac" shape-rendering="crispEdges"/>
<rect x="250" y="86.08" width="8" height="8.62" fill="#828a88" shape-rendering="crispEdges"/>
<rect x="258" y="86.08" width="8" height="8.62" fill="#828a88" shape-rendering="crispEdges"/>
<rect x="266" y="86.08" width="8" height="8.62" fill="#828a88" shape-rendering="crispEdges"/>
<rect x="274" y="86.08" width="8" height="8.62" fill="#6dcadb" shape-rendering="crispEdges"/>
<rect x="282" y="86.08" width="8" height="8.62" fill="#6dcadb" shape-rendering="crispEdges"/>
<rect x="290" y="86.08" width="8" height="8.62" fill="#6dcadb" shape-rendering="crispEdges"/>
<rect x="298" y="86.08" width="8" height="8.62" fill="#6dcadb" shape-rendering="crispEdges"/>
<rect x="306" y="86.08" width="8" height="8.62" fill="#6dcadb" shape-rendering="crispEdges"/>
<rect x="314" y="86.08" width="8" height="8.62" fill="#987c7e" shape-rendering="crispEdges"/>
<rect x="322" y="86.08" width="8" height="8.62" fill="#987c7e" shape-rendering="crispEdges"/>
<rect x="330" y="86.08" width="8" height="8.62" fill="#987c7e" shape-rendering="crispEdges"/>
<rect x="250" y="94.10" width="8" height="8.62" fill="#987c7e" shape-rendering="crispEdges"/>
<rect x="258" y="94.10" width="8" height="8.62" fill="#987c7e" shape-rendering="crispEdges"/>
<rect x="266" y="94.10" width="8" height="8.62" fill="#987c7e" shape-rendering="crispEdges"/>
<rect x="274" y="94.10" width="8" height="8.62" fill="#6dcadb" shape-rendering="crispEdges"/>
<rect x="282" y="94.10" width="8" height="8.62" fill="#6dcadb" shape-rendering="crispEdges"/>
<rect x="290" y="94.10" width="8" height="8.62" fill="#6dcadb" shape-rendering="crispEdges"/>
<rect x="298" y="94.10" width="8" height="8.62" fill="#6dcadb" shape-rendering="crispEdges"/>
<rect x="306" y="94.10" width="8" height="8.62" fill="#4cb0ac" shape-rendering="crispEdges"/>
<rect x="314" y="94.10" width="8" height="8.62" fill="#b85c60" shape-rendering="crispEdges"/>
<rect x="322" y="94.10" width="8" height="8.62" fill="#828a88" shape-rendering="crispEdges"/>
<rect x="330" y="94.10" width="8" height="8.62" fill="#987c7e" shape-rendering="crispEdges"/>
<rect x="250" y="102.12" width="8" height="8.62" fill="#b85c60" shape-rendering="crispEdges"/>
<rect x="258" y="102.12" width="8" height="8.62" fill="#b85c60" shape-rendering="crispEdges"/>
<rect x="266" y="102.12" width="8" height="8.62" fill="#b85c60" shape-rendering="crispEdges"/>
<rect x="274" y="102.12" width="8" height="8.62" fill="#6dcadb" shape-rendering="crispEdges"/>
<rect x="282" y="102.12" width="8" height="8.62" fill="#6dcadb" shape-rendering="crispEdges"/>
<rect x="290" y="102.12" width="8" height="8.62" fill="#6dcadb" shape-rendering="crispEdges"/>
<rect x="298" y="102.12" width="8" height="8.62" fill="#6dcadb" shape-rendering="crispEdges"/>
<rect x="306" y="102.12" width="8" height="8.62" fill="#4cb0ac" shape-rendering="crispEdges"/>
<rect x="314" y="102.12" width="8" height="8.62" fill="#b85c60" shape-rendering="crispEdges"/>
<rect x="322" y="102.12" width="8" height="8.62" fill="#b85c60" shape-rendering="crispEdges"/>
<rect x="330" y="102.12" width="8" height="8.62" fill="#b85c60" shape-rendering="crispEdges"/>
<rect x="250" y="110.14" width="8" height="8.62" fill="#987c7e" shape-rendering="crispEdges"/>
<rect x="258" y="110.14" width="8" height="8.62" fill="#4cb0ac" shape-rendering="crispEdges"/>
<rect x="266" y="110.14" width="8" height="8.62" fill="#987c7e" shape-rendering="crispEdges"/>
<rect x="274" y="110.14" width="8" height="8.62" fill="#6dcadb" shape-rendering="crispEdges"/>
<rect x="282" y="110.14" width="8" height="8.62" fill="#6dcadb" shape-rendering="crispEdges"/>
<rect x="290" y="110.14" width="8" height="8.62" fill="#6dcadb" shape-rendering="crispEdges"/>
<rect x="298" y="110.14" width="8" height="8.62" fill="#6dcadb" shape-rendering="crispEdges"/>
<rect x="306" y="110.14" width="8" height="8.62" fill="#6dcadb" shape-rendering="crispEdges"/>
<rect x="314" y="110.14" width="8" height="8.62" fill="#987c7e" shape-rendering="crispEdges"/>
<rect x="322" y="110.14" width="8" height="8.62" fill="#828a88" shape-rendering="crispEdges"/>
<rect x="330" y="110.14" width="8" height="8.62" fill="#987c7e" shape-rendering="crispEdges"/>
<rect x="250" y="118.16" width="8" height="8.62" fill="#987c7e" shape-rendering="crispEdges"/>
<rect x="258" y="118.16" width="8" height="8.62" fill="#987c7e" shape-rendering="crispEdges"/>
<rect x="266" y="118.16" width="8" height="8.62" fill="#987c7e" shape-rendering="crispEdges"/>
<rect x="274" y="118.16" width="8" height="8.62" fill="#6dcadb" shape-rendering="crispEdges"/>
<rect x="282" y="118.16" width="8" height="8.62" fill="#6dcadb" shape-rendering="crispEdges"/>
<rect x="290" y="118.16" width="8" height="8.62" fill="#6dcadb" shape-rendering="crispEdges"/>
<rect x="298" y="118.16" width="8" height="8.62" fill="#6dcadb" shape-rendering="crispEdges"/>
<rect x="306" y="118.16" width="8" height="8.62" fill="#6dcadb" shape-rendering="crispEdges"/>
<rect x="314" y="118.16" width="8" height="8.62" fill="#6dcadb" shape-rendering="crispEdges"/>
<rect x="322" y="118.16" width="8" height="8.62" fill="#987c7e" shape-rendering="crispEdges"/>
<rect x="330" y="118.16" width="8" height="8.62" fill="#987c7e" shape-rendering="crispEdges"/>
<rect x="250" y="126.18" width="8" height="8.62" fill="#b85c60" shape-rendering="crispEdges"/>
<rect x="258" y="126.18" width="8" height="8.62" fill="#987c7e" shape-rendering="crispEdges"/>
<rect x="266" y="126.18" width="8" height="8.62" fill="#987c7e" shape-rendering="crispEdges"/>
<rect x="274" y="126.18" width="8" height="8.62" fill="#6dcadb" shape-rendering="crispEdges"/>
<rect x="282" y="126.18" width="8" height="8.62" fill="#6dcadb" shape-rendering="crispEdges"/>
<rect x="290" y="126.18" width="8" height="8.62" fill="#6dcadb" shape-rendering="crispEdges"/>
<rect x="298" y="126.18" width="8" height="8.62" fill="#6dcadb" shape-rendering="crispEdges"/>
<rect x="306" y="126.18" width="8" height="8.62" fill="#828a88" shape-rendering="crispEdges"/>
<rect x="314" y="126.18" width="8" height="8.62" fill="#c84a4e" shape-rendering="crispEdges"/>
<rect x="322" y="126.18" width="8" height="8.62" fill="#987c7e" shape-rendering="crispEdges"/>
<rect x="330" y="126.18" width="8" height="8.62" fill="#987c7e" shape-rendering="crispEdges"/>
<rect x="250" y="134.20" width="8" height="8.62" fill="#4cb0ac" shape-rendering="crispEdges"/>
<rect x="258" y="134.20" width="8" height="8.62" fill="#4cb0ac" shape-rendering="crispEdges"/>
<rect x="266" y="134.20" width="8" height="8.62" fill="#4cb0ac" shape-rendering="crispEdges"/>
<rect x="274" y="134.20" width="8" height="8.62" fill="#6dcadb" shape-rendering="crispEdges"/>
<rect x="282" y="134.20" width="8" height="8.62" fill="#6dcadb" shape-rendering="crispEdges"/>
<rect x="290" y="134.20" width="8" height="8.62" fill="#6dcadb" shape-rendering="crispEdges"/>
<rect x="298" y="134.20" width="8" height="8.62" fill="#6dcadb" shape-rendering="crispEdges"/>
<rect x="306" y="134.20" width="8" height="8.62" fill="#6dcadb" shape-rendering="crispEdges"/>
<rect x="314" y="134.20" width="8" height="8.62" fill="#6dcadb" shape-rendering="crispEdges"/>
<rect x="322" y="134.20" width="8" height="8.62" fill="#3ebfc0" shape-rendering="crispEdges"/>
<rect x="330" y="134.20" width="8" height="8.62" fill="#3ebfc0" shape-rendering="crispEdges"/>
<rect x="250" y="142.22" width="8" height="8.62" fill="#c84a4e" shape-rendering="crispEdges"/>
<rect x="258" y="142.22" width="8" height="8.62" fill="#c84a4e" shape-rendering="crispEdges"/>
<rect x="266" y="142.22" width="8" height="8.62" fill="#c84a4e" shape-rendering="crispEdges"/>
<rect x="274" y="142.22" width="8" height="8.62" fill="#d8383e" shape-rendering="crispEdges"/>
<rect x="282" y="142.22" width="8" height="8.62" fill="#d8383e" shape-rendering="crispEdges"/>
<rect x="290" y="142.22" width="8" height="8.62" fill="#d8383e" shape-rendering="crispEdges"/>
<rect x="298" y="142.22" width="8" height="8.62" fill="#d8383e" shape-rendering="crispEdges"/>
<rect x="306" y="142.22" width="8" height="8.62" fill="#d8383e" shape-rendering="crispEdges"/>
<rect x="314" y="142.22" width="8" height="8.62" fill="#d8383e" shape-rendering="crispEdges"/>
<rect x="322" y="142.22" width="8" height="8.62" fill="#d8383e" shape-rendering="crispEdges"/>
<rect x="330" y="142.22" width="8" height="8.62" fill="#d8383e" shape-rendering="crispEdges"/>
<rect x="250" y="150.24" width="8" height="8.62" fill="#e8222a" shape-rendering="crispEdges"/>
<rect x="258" y="150.24" width="8" height="8.62" fill="#e8222a" shape-rendering="crispEdges"/>
<rect x="266" y="150.24" width="8" height="8.62" fill="#e8222a" shape-rendering="crispEdges"/>
<rect x="274" y="150.24" width="8" height="8.62" fill="#e8222a" shape-rendering="crispEdges"/>
<rect x="282" y="150.24" width="8" height="8.62" fill="#e8222a" shape-rendering="crispEdges"/>
<rect x="290" y="150.24" width="8" height="8.62" fill="#e8222a" shape-rendering="crispEdges"/>
<rect x="298" y="150.24" width="8" height="8.62" fill="#e8222a" shape-rendering="crispEdges"/>
<rect x="306" y="150.24" width="8" height="8.62" fill="#e8222a" shape-rendering="crispEdges"/>
<rect x="314" y="150.24" width="8" height="8.62" fill="#e8222a" shape-rendering="crispEdges"/>
<rect x="322" y="150.24" width="8" height="8.62" fill="#e8222a" shape-rendering="crispEdges"/>
<rect x="330" y="150.24" width="8" height="8.62" fill="#e8222a" shape-rendering="crispEdges"/>
<rect x="250" y="158.26" width="8" height="8.62" fill="#6dcadb" shape-rendering="crispEdges"/>
<rect x="258" y="158.26" width="8" height="8.62" fill="#6dcadb" shape-rendering="crispEdges"/>
<rect x="266" y="158.26" width="8" height="8.62" fill="#6dcadb" shape-rendering="crispEdges"/>
<rect x="274" y="158.26" width="8" height="8.62" fill="#828a88" shape-rendering="crispEdges"/>
<rect x="282" y="158.26" width="8" height="8.62" fill="#828a88" shape-rendering="crispEdges"/>
<rect x="290" y="158.26" width="8" height="8.62" fill="#828a88" shape-rendering="crispEdges"/>
<rect x="298" y="158.26" width="8" height="8.62" fill="#828a88" shape-rendering="crispEdges"/>
<rect x="306" y="158.26" width="8" height="8.62" fill="#3ebfc0" shape-rendering="crispEdges"/>
<rect x="314" y="158.26" width="8" height="8.62" fill="#6dcadb" shape-rendering="crispEdges"/>
<rect x="322" y="158.26" width="8" height="8.62" fill="#4cb0ac" shape-rendering="crispEdges"/>
<rect x="330" y="158.26" width="8" height="8.62" fill="#6dcadb" shape-rendering="crispEdges"/>
<rect x="250" y="166.28" width="8" height="8.62" fill="#6dcadb" shape-rendering="crispEdges"/>
<rect x="258" y="166.28" width="8" height="8.62" fill="#6dcadb" shape-rendering="crispEdges"/>
<rect x="266" y="166.28" width="8" height="8.62" fill="#6dcadb" shape-rendering="crispEdges"/>
<rect x="274" y="166.28" width="8" height="8.62" fill="#828a88" shape-rendering="crispEdges"/>
<rect x="282" y="166.28" width="8" height="8.62" fill="#987c7e" shape-rendering="crispEdges"/>
<rect x="290" y="166.28" width="8" height="8.62" fill="#b85c60" shape-rendering="crispEdges"/>
<rect x="298" y="166.28" width="8" height="8.62" fill="#828a88" shape-rendering="crispEdges"/>
<rect x="306" y="166.28" width="8" height="8.62" fill="#828a88" shape-rendering="crispEdges"/>
<rect x="314" y="166.28" width="8" height="8.62" fill="#6dcadb" shape-rendering="crispEdges"/>
<rect x="322" y="166.28" width="8" height="8.62" fill="#6dcadb" shape-rendering="crispEdges"/>
<rect x="330" y="166.28" width="8" height="8.62" fill="#6dcadb" shape-rendering="crispEdges"/>
<rect x="250" y="174.30" width="8" height="8.62" fill="#6dcadb" shape-rendering="crispEdges"/>
<rect x="258" y="174.30" width="8" height="8.62" fill="#6dcadb" shape-rendering="crispEdges"/>
<rect x="266" y="174.30" width="8" height="8.62" fill="#3ebfc0" shape-rendering="crispEdges"/>
<rect x="274" y="174.30" width="8" height="8.62" fill="#d8383e" shape-rendering="crispEdges"/>
<rect x="282" y="174.30" width="8" height="8.62" fill="#d8383e" shape-rendering="crispEdges"/>
<rect x="290" y="174.30" width="8" height="8.62" fill="#d8383e" shape-rendering="crispEdges"/>
<rect x="298" y="174.30" width="8" height="8.62" fill="#d8383e" shape-rendering="crispEdges"/>
<rect x="306" y="174.30" width="8" height="8.62" fill="#828a88" shape-rendering="crispEdges"/>
<rect x="314" y="174.30" width="8" height="8.62" fill="#6dcadb" shape-rendering="crispEdges"/>
<rect x="322" y="174.30" width="8" height="8.62" fill="#6dcadb" shape-rendering="crispEdges"/>
<rect x="330" y="174.30" width="8" height="8.62" fill="#6dcadb" shape-rendering="crispEdges"/>
<rect x="250" y="182.32" width="8" height="8.62" fill="#6dcadb" shape-rendering="crispEdges"/>
<rect x="258" y="182.32" width="8" height="8.62" fill="#6dcadb" shape-rendering="crispEdges"/>
<rect x="266" y="182.32" width="8" height="8.62" fill="#6dcadb" shape-rendering="crispEdges"/>
<rect x="274" y="182.32" width="8" height="8.62" fill="#c84a4e" shape-rendering="crispEdges"/>
<rect x="282" y="182.32" width="8" height="8.62" fill="#b85c60" shape-rendering="crispEdges"/>
<rect x="290" y="182.32" width="8" height="8.62" fill="#c84a4e" shape-rendering="crispEdges"/>
<rect x="298" y="182.32" width="8" height="8.62" fill="#c84a4e" shape-rendering="crispEdges"/>
<rect x="306" y="182.32" width="8" height="8.62" fill="#828a88" shape-rendering="crispEdges"/>
<rect x="314" y="182.32" width="8" height="8.62" fill="#6dcadb" shape-rendering="crispEdges"/>
<rect x="322" y="182.32" width="8" height="8.62" fill="#6dcadb" shape-rendering="crispEdges"/>
<rect x="330" y="182.32" width="8" height="8.62" fill="#6dcadb" shape-rendering="crispEdges"/>
<rect x="250" y="190.34" width="8" height="8.62" fill="#62a09e" shape-rendering="crispEdges"/>
<rect x="258" y="190.34" width="8" height="8.62" fill="#4cb0ac" shape-rendering="crispEdges"/>
<rect x="266" y="190.34" width="8" height="8.62" fill="#4cb0ac" shape-rendering="crispEdges"/>
<rect x="274" y="190.34" width="8" height="8.62" fill="#828a88" shape-rendering="crispEdges"/>
<rect x="282" y="190.34" width="8" height="8.62" fill="#828a88" shape-rendering="crispEdges"/>
<rect x="290" y="190.34" width="8" height="8.62" fill="#3ebfc0" shape-rendering="crispEdges"/>
<rect x="298" y="190.34" width="8" height="8.62" fill="#3ebfc0" shape-rendering="crispEdges"/>
<rect x="306" y="190.34" width="8" height="8.62" fill="#4cb0ac" shape-rendering="crispEdges"/>
<rect x="314" y="190.34" width="8" height="8.62" fill="#62a09e" shape-rendering="crispEdges"/>
<rect x="322" y="190.34" width="8" height="8.62" fill="#62a09e" shape-rendering="crispEdges"/>
<rect x="330" y="190.34" width="8" height="8.62" fill="#828a88" shape-rendering="crispEdges"/>
<rect x="250" y="198.36" width="8" height="8.62" fill="#62a09e" shape-rendering="crispEdges"/>
<rect x="258" y="198.36" width="8" height="8.62" fill="#4cb0ac" shape-rendering="crispEdges"/>
<rect x="266" y="198.36" width="8" height="8.62" fill="#4cb0ac" shape-rendering="crispEdges"/>
<rect x="274" y="198.36" width="8" height="8.62" fill="#828a88" shape-rendering="crispEdges"/>
<rect x="282" y="198.36" width="8" height="8.62" fill="#828a88" shape-rendering="crispEdges"/>
<rect x="290" y="198.36" width="8" height="8.62" fill="#3ebfc0" shape-rendering="crispEdges"/>
<rect x="298" y="198.36" width="8" height="8.62" fill="#6dcadb" shape-rendering="crispEdges"/>
<rect x="306" y="198.36" width="8" height="8.62" fill="#6dcadb" shape-rendering="crispEdges"/>
<rect x="314" y="198.36" width="8" height="8.62" fill="#62a09e" shape-rendering="crispEdges"/>
<rect x="322" y="198.36" width="8" height="8.62" fill="#828a88" shape-rendering="crispEdges"/>
<rect x="330" y="198.36" width="8" height="8.62" fill="#828a88" shape-rendering="crispEdges"/>
<rect x="250" y="206.38" width="8" height="8.62" fill="#828a88" shape-rendering="crispEdges"/>
<rect x="258" y="206.38" width="8" height="8.62" fill="#828a88" shape-rendering="crispEdges"/>
<rect x="266" y="206.38" width="8" height="8.62" fill="#828a88" shape-rendering="crispEdges"/>
<rect x="274" y="206.38" width="8" height="8.62" fill="#828a88" shape-rendering="crispEdges"/>
<rect x="282" y="206.38" width="8" height="8.62" fill="#828a88" shape-rendering="crispEdges"/>
<rect x="290" y="206.38" width="8" height="8.62" fill="#62a09e" shape-rendering="crispEdges"/>
<rect x="298" y="206.38" width="8" height="8.62" fill="#62a09e" shape-rendering="crispEdges"/>
<rect x="306" y="206.38" width="8" height="8.62" fill="#62a09e" shape-rendering="crispEdges"/>
<rect x="314" y="206.38" width="8" height="8.62" fill="#828a88" shape-rendering="crispEdges"/>
<rect x="322" y="206.38" width="8" height="8.62" fill="#828a88" shape-rendering="crispEdges"/>
<rect x="330" y="206.38" width="8" height="8.62" fill="#828a88" shape-rendering="crispEdges"/>
<rect x="250" y="214.40" width="8" height="8.62" fill="#e8222a" shape-rendering="crispEdges"/>
<rect x="258" y="214.40" width="8" height="8.62" fill="#e8222a" shape-rendering="crispEdges"/>
<rect x="266" y="214.40" width="8" height="8.62" fill="#e8222a" shape-rendering="crispEdges"/>
<rect x="274" y="214.40" width="8" height="8.62" fill="#e8222a" shape-rendering="crispEdges"/>
<rect x="282" y="214.40" width="8" height="8.62" fill="#e8222a" shape-rendering="crispEdges"/>
<rect x="290" y="214.40" width="8" height="8.62" fill="#e8222a" shape-rendering="crispEdges"/>
<rect x="298" y="214.40" width="8" height="8.62" fill="#e8222a" shape-rendering="crispEdges"/>
<rect x="306" y="214.40" width="8" height="8.62" fill="#e8222a" shape-rendering="crispEdges"/>
<rect x="314" y="214.40" width="8" height="8.62" fill="#e8222a" shape-rendering="crispEdges"/>
<rect x="322" y="214.40" width="8" height="8.62" fill="#e8222a" shape-rendering="crispEdges"/>
<rect x="330" y="214.40" width="8" height="8.62" fill="#e8222a" shape-rendering="crispEdges"/>
<rect x="250" y="222.42" width="8" height="8.62" fill="#b85c60" shape-rendering="crispEdges"/>
<rect x="258" y="222.42" width="8" height="8.62" fill="#b85c60" shape-rendering="crispEdges"/>
<rect x="266" y="222.42" width="8" height="8.62" fill="#b85c60" shape-rendering="crispEdges"/>
<rect x="274" y="222.42" width="8" height="8.62" fill="#b85c60" shape-rendering="crispEdges"/>
<rect x="282" y="222.42" width="8" height="8.62" fill="#b85c60" shape-rendering="crispEdges"/>
<rect x="290" y="222.42" width="8" height="8.62" fill="#b85c60" shape-rendering="crispEdges"/>
<rect x="298" y="222.42" width="8" height="8.62" fill="#b85c60" shape-rendering="crispEdges"/>
<rect x="306" y="222.42" width="8" height="8.62" fill="#b85c60" shape-rendering="crispEdges"/>
<rect x="314" y="222.42" width="8" height="8.62" fill="#b85c60" shape-rendering="crispEdges"/>
<rect x="322" y="222.42" width="8" height="8.62" fill="#b85c60" shape-rendering="crispEdges"/>
<rect x="330" y="222.42" width="8" height="8.62" fill="#b85c60" shape-rendering="crispEdges"/>
<rect x="250" y="230.44" width="8" height="8.62" fill="#e8222a" shape-rendering="crispEdges"/>
<rect x="258" y="230.44" width="8" height="8.62" fill="#e8222a" shape-rendering="crispEdges"/>
<rect x="266" y="230.44" width="8" height="8.62" fill="#e8222a" shape-rendering="crispEdges"/>
<rect x="274" y="230.44" width="8" height="8.62" fill="#d8383e" shape-rendering="crispEdges"/>
<rect x="282" y="230.44" width="8" height="8.62" fill="#c84a4e" shape-rendering="crispEdges"/>
<rect x="290" y="230.44" width="8" height="8.62" fill="#c84a4e" shape-rendering="crispEdges"/>
<rect x="298" y="230.44" width="8" height="8.62" fill="#b85c60" shape-rendering="crispEdges"/>
<rect x="306" y="230.44" width="8" height="8.62" fill="#987c7e" shape-rendering="crispEdges"/>
<rect x="314" y="230.44" width="8" height="8.62" fill="#d8383e" shape-rendering="crispEdges"/>
<rect x="322" y="230.44" width="8" height="8.62" fill="#b85c60" shape-rendering="crispEdges"/>
<rect x="330" y="230.44" width="8" height="8.62" fill="#d8383e" shape-rendering="crispEdges"/>
<rect x="250" y="238.46" width="8" height="8.62" fill="#987c7e" shape-rendering="crispEdges"/>
<rect x="258" y="238.46" width="8" height="8.62" fill="#987c7e" shape-rendering="crispEdges"/>
<rect x="266" y="238.46" width="8" height="8.62" fill="#987c7e" shape-rendering="crispEdges"/>
<rect x="274" y="238.46" width="8" height="8.62" fill="#6dcadb" shape-rendering="crispEdges"/>
<rect x="282" y="238.46" width="8" height="8.62" fill="#6dcadb" shape-rendering="crispEdges"/>
<rect x="290" y="238.46" width="8" height="8.62" fill="#6dcadb" shape-rendering="crispEdges"/>
<rect x="298" y="238.46" width="8" height="8.62" fill="#6dcadb" shape-rendering="crispEdges"/>
<rect x="306" y="238.46" width="8" height="8.62" fill="#b85c60" shape-rendering="crispEdges"/>
<rect x="314" y="238.46" width="8" height="8.62" fill="#987c7e" shape-rendering="crispEdges"/>
<rect x="322" y="238.46" width="8" height="8.62" fill="#b85c60" shape-rendering="crispEdges"/>
<rect x="330" y="238.46" width="8" height="8.62" fill="#987c7e" shape-rendering="crispEdges"/>
<rect x="250" y="246.48" width="8" height="8.62" fill="#4cb0ac" shape-rendering="crispEdges"/>
<rect x="258" y="246.48" width="8" height="8.62" fill="#62a09e" shape-rendering="crispEdges"/>
<rect x="266" y="246.48" width="8" height="8.62" fill="#828a88" shape-rendering="crispEdges"/>
<rect x="274" y="246.48" width="8" height="8.62" fill="#6dcadb" shape-rendering="crispEdges"/>
<rect x="282" y="246.48" width="8" height="8.62" fill="#6dcadb" shape-rendering="crispEdges"/>
<rect x="290" y="246.48" width="8" height="8.62" fill="#6dcadb" shape-rendering="crispEdges"/>
<rect x="298" y="246.48" width="8" height="8.62" fill="#6dcadb" shape-rendering="crispEdges"/>
<rect x="306" y="246.48" width="8" height="8.62" fill="#6dcadb" shape-rendering="crispEdges"/>
<rect x="314" y="246.48" width="8" height="8.62" fill="#6dcadb" shape-rendering="crispEdges"/>
<rect x="322" y="246.48" width="8" height="8.62" fill="#62a09e" shape-rendering="crispEdges"/>
<rect x="330" y="246.48" width="8" height="8.62" fill="#4cb0ac" shape-rendering="crispEdges"/>
<rect x="250" y="254.50" width="8" height="8.62" fill="#62a09e" shape-rendering="crispEdges"/>
<rect x="258" y="254.50" width="8" height="8.62" fill="#4cb0ac" shape-rendering="crispEdges"/>
<rect x="266" y="254.50" width="8" height="8.62" fill="#62a09e" shape-rendering="crispEdges"/>
<rect x="274" y="254.50" width="8" height="8.62" fill="#6dcadb" shape-rendering="crispEdges"/>
<rect x="282" y="254.50" width="8" height="8.62" fill="#6dcadb" shape-rendering="crispEdges"/>
<rect x="290" y="254.50" width="8" height="8.62" fill="#6dcadb" shape-rendering="crispEdges"/>
<rect x="298" y="254.50" width="8" height="8.62" fill="#6dcadb" shape-rendering="crispEdges"/>
<rect x="306" y="254.50" width="8" height="8.62" fill="#6dcadb" shape-rendering="crispEdges"/>
<rect x="314" y="254.50" width="8" height="8.62" fill="#6dcadb" shape-rendering="crispEdges"/>
<rect x="322" y="254.50" width="8" height="8.62" fill="#4cb0ac" shape-rendering="crispEdges"/>
<rect x="330" y="254.50" width="8" height="8.62" fill="#4cb0ac" shape-rendering="crispEdges"/>
<rect x="250" y="262.52" width="8" height="8.62" fill="#e8222a" shape-rendering="crispEdges"/>
<rect x="258" y="262.52" width="8" height="8.62" fill="#e8222a" shape-rendering="crispEdges"/>
<rect x="266" y="262.52" width="8" height="8.62" fill="#e8222a" shape-rendering="crispEdges"/>
<rect x="274" y="262.52" width="8" height="8.62" fill="#e8222a" shape-rendering="crispEdges"/>
<rect x="282" y="262.52" width="8" height="8.62" fill="#e8222a" shape-rendering="crispEdges"/>
<rect x="290" y="262.52" width="8" height="8.62" fill="#e8222a" shape-rendering="crispEdges"/>
<rect x="298" y="262.52" width="8" height="8.62" fill="#e8222a" shape-rendering="crispEdges"/>
<rect x="306" y="262.52" width="8" height="8.62" fill="#e8222a" shape-rendering="crispEdges"/>
<rect x="314" y="262.52" width="8" height="8.62" fill="#987c7e" shape-rendering="crispEdges"/>
<rect x="322" y="262.52" width="8" height="8.62" fill="#987c7e" shape-rendering="crispEdges"/>
<rect x="330" y="262.52" width="8" height="8.62" fill="#d8383e" shape-rendering="crispEdges"/>
<rect x="250" y="270.54" width="8" height="8.62" fill="#d8383e" shape-rendering="crispEdges"/>
<rect x="258" y="270.54" width="8" height="8.62" fill="#d8383e" shape-rendering="crispEdges"/>
<rect x="266" y="270.54" width="8" height="8.62" fill="#d8383e" shape-rendering="crispEdges"/>
<rect x="274" y="270.54" width="8" height="8.62" fill="#e8222a" shape-rendering="crispEdges"/>
<rect x="282" y="270.54" width="8" height="8.62" fill="#e8222a" shape-rendering="crispEdges"/>
<rect x="290" y="270.54" width="8" height="8.62" fill="#987c7e" shape-rendering="crispEdges"/>
<rect x="298" y="270.54" width="8" height="8.62" fill="#987c7e" shape-rendering="crispEdges"/>
<rect x="306" y="270.54" width="8" height="8.62" fill="#987c7e" shape-rendering="crispEdges"/>
<rect x="314" y="270.54" width="8" height="8.62" fill="#d8383e" shape-rendering="crispEdges"/>
<rect x="322" y="270.54" width="8" height="8.62" fill="#d8383e" shape-rendering="crispEdges"/>
<rect x="330" y="270.54" width="8" height="8.62" fill="#d8383e" shape-rendering="crispEdges"/>
<rect x="250" y="278.56" width="8" height="8.62" fill="#987c7e" shape-rendering="crispEdges"/>
<rect x="258" y="278.56" width="8" height="8.62" fill="#987c7e" shape-rendering="crispEdges"/>
<rect x="266" y="278.56" width="8" height="8.62" fill="#987c7e" shape-rendering="crispEdges"/>
<rect x="274" y="278.56" width="8" height="8.62" fill="#6dcadb" shape-rendering="crispEdges"/>
<rect x="282" y="278.56" width="8" height="8.62" fill="#6dcadb" shape-rendering="crispEdges"/>
<rect x="290" y="278.56" width="8" height="8.62" fill="#6dcadb" shape-rendering="crispEdges"/>
<rect x="298" y="278.56" width="8" height="8.62" fill="#6dcadb" shape-rendering="crispEdges"/>
<rect x="306" y="278.56" width="8" height="8.62" fill="#987c7e" shape-rendering="crispEdges"/>
<rect x="314" y="278.56" width="8" height="8.62" fill="#b85c60" shape-rendering="crispEdges"/>
<rect x="322" y="278.56" width="8" height="8.62" fill="#b85c60" shape-rendering="crispEdges"/>
<rect x="330" y="278.56" width="8" height="8.62" fill="#b85c60" shape-rendering="crispEdges"/>
<rect x="250" y="286.58" width="8" height="8.02" fill="#987c7e" shape-rendering="crispEdges"/>
<rect x="258" y="286.58" width="8" height="8.02" fill="#c84a4e" shape-rendering="crispEdges"/>
<rect x="266" y="286.58" width="8" height="8.02" fill="#987c7e" shape-rendering="crispEdges"/>
<rect x="274" y="286.58" width="8" height="8.02" fill="#6dcadb" shape-rendering="crispEdges"/>
<rect x="282" y="286.58" width="8" height="8.02" fill="#6dcadb" shape-rendering="crispEdges"/>
<rect x="290" y="286.58" width="8" height="8.02" fill="#6dcadb" shape-rendering="crispEdges"/>
<rect x="298" y="286.58" width="8" height="8.02" fill="#6dcadb" shape-rendering="crispEdges"/>
<rect x="306" y="286.58" width="8" height="8.02" fill="#6dcadb" shape-rendering="crispEdges"/>
<rect x="314" y="286.58" width="8" height="8.02" fill="#62a09e" shape-rendering="crispEdges"/>
<rect x="322" y="286.58" width="8" height="8.02" fill="#62a09e" shape-rendering="crispEdges"/>
<rect x="330" y="286.58" width="8" height="8.02" fill="#828a88" shape-rendering="crispEdges"/>
<text transform="translate(256.60,52.7) rotate(-90)" font-size="6.9" fill="#111" style="stroke:#111;stroke-width:0.3px">Day -8</text>
<text transform="translate(264.60,52.7) rotate(-90)" font-size="6.9" fill="#111" style="stroke:#111;stroke-width:0.3px">Day -5</text>
<text transform="translate(272.60,52.7) rotate(-90)" font-size="6.9" fill="#e8202a" style="stroke:#e8202a;stroke-width:0.3px">Day 0</text>
<text transform="translate(280.60,52.7) rotate(-90)" font-size="6.9" fill="#111" style="stroke:#111;stroke-width:0.3px">Day 1</text>
<text transform="translate(288.60,52.7) rotate(-90)" font-size="6.9" fill="#111" style="stroke:#111;stroke-width:0.3px">Day 2</text>
<text transform="translate(296.60,52.7) rotate(-90)" font-size="6.9" fill="#111" style="stroke:#111;stroke-width:0.3px">Day 5</text>
<text transform="translate(304.60,52.7) rotate(-90)" font-size="6.9" fill="#111" style="stroke:#111;stroke-width:0.3px">Day 7</text>
<text transform="translate(312.60,52.7) rotate(-90)" font-size="6.9" fill="#111" style="stroke:#111;stroke-width:0.3px">Day 9</text>
<text transform="translate(320.60,52.7) rotate(-90)" font-size="6.9" fill="#111" style="stroke:#111;stroke-width:0.3px">Day 12</text>
<text transform="translate(328.60,52.7) rotate(-90)" font-size="6.9" fill="#111" style="stroke:#111;stroke-width:0.3px">Day 15</text>
<text transform="translate(336.60,52.7) rotate(-90)" font-size="6.9" fill="#111" style="stroke:#111;stroke-width:0.3px">Day 22</text>
<path d="M272.20 23.8 L276.80 23.8 L274.50 32 Z" fill="#111"/>
<line x1="274.50" y1="30" x2="274.50" y2="54" stroke="#555" stroke-width="0.9"/>
<line x1="274.50" y1="54" x2="274.50" y2="294.6" stroke="#1e3a40" stroke-width="0.9"/>
<line x1="32" y1="142.30" x2="338" y2="142.30" stroke="#333" stroke-width="0.8"/>
<line x1="32" y1="190.30" x2="338" y2="190.30" stroke="#333" stroke-width="0.8"/>
<line x1="32" y1="262.80" x2="338" y2="262.80" stroke="#333" stroke-width="0.8"/>
<line x1="32" y1="230.30" x2="338" y2="230.30" stroke="#888" stroke-width="0.8" stroke-dasharray="1.2,1.3"/>
<line x1="32" y1="278.80" x2="338" y2="278.80" stroke="#888" stroke-width="0.8" stroke-dasharray="1.2,1.3"/>
<text x="185.4" y="60.90" font-size="6.65" fill="#1a1a1a" text-anchor="middle" style="stroke-width:0.08px">Lachnospiraceae species_OTU_ID_1342</text>
<text x="185.4" y="68.92" font-size="6.65" fill="#1a1a1a" text-anchor="middle" style="stroke-width:0.08px">Lachnospiraceae species_OTU_ID_395</text>
<text x="185.4" y="76.94" font-size="6.65" fill="#1a1a1a" text-anchor="middle" style="stroke-width:0.08px">Phascolarctobacterium faecium</text>
<text x="185.4" y="84.96" font-size="6.65" fill="#1a1a1a" text-anchor="middle" style="stroke-width:0.08px">Alistipes finegoldii</text>
<text x="185.4" y="92.98" font-size="6.65" fill="#1a1a1a" text-anchor="middle" style="stroke-width:0.08px">Clostridium symbiosum WAL-14673</text>
<text x="185.4" y="101.00" font-size="6.65" fill="#1a1a1a" text-anchor="middle" style="stroke-width:0.08px">Lachnospiraceae species_OTU_ID_1545</text>
<text x="185.4" y="109.02" font-size="6.65" fill="#1a1a1a" text-anchor="middle" style="stroke-width:0.08px">Lachnospiraceae species_OTU_ID_335</text>
<text x="185.4" y="117.04" font-size="6.65" fill="#1a1a1a" text-anchor="middle" style="stroke-width:0.08px">Faecalibacterium species_OTU_ID_366</text>
<text x="185.4" y="125.06" font-size="6.65" fill="#1a1a1a" text-anchor="middle" style="stroke-width:0.08px">Bacteroides species_OTU_ID_1357</text>
<text x="185.4" y="133.08" font-size="6.65" fill="#1a1a1a" text-anchor="middle" style="stroke-width:0.08px">Clostridiales bacterium 1_7_47FAA</text>
<text x="185.4" y="141.10" font-size="6.65" fill="#1a1a1a" text-anchor="middle" style="stroke-width:0.08px">Lachnospiraceae species_OTU_ID_449</text>
<text x="185.4" y="149.12" font-size="6.65" fill="#1a1a1a" text-anchor="middle" style="stroke-width:0.08px">Bacteroides caccae</text>
<text x="185.4" y="157.14" font-size="6.65" fill="#1a1a1a" text-anchor="middle" style="stroke-width:0.08px">Bacteroides intestinalis</text>
<text x="185.4" y="165.16" font-size="6.65" fill="#1a1a1a" text-anchor="middle" style="stroke-width:0.08px">Enterobacter asburiae</text>
<text x="185.4" y="173.18" font-size="6.65" fill="#1a1a1a" text-anchor="middle" style="stroke-width:0.08px">Escherichia coli</text>
<text x="185.4" y="181.20" font-size="6.65" fill="#1a1a1a" text-anchor="middle" style="stroke-width:0.08px">Klebsiella sp. TNT2</text>
<text x="185.4" y="189.22" font-size="6.65" fill="#1a1a1a" text-anchor="middle" style="stroke-width:0.08px">Cronobacter dublinensis</text>
<text x="185.4" y="197.24" font-size="6.65" fill="#1a1a1a" text-anchor="middle" style="stroke-width:0.08px">Bacteroides species_OTU_ID_1128</text>
<text x="185.4" y="205.26" font-size="6.65" fill="#1a1a1a" text-anchor="middle" style="stroke-width:0.08px">Lachnospiraceae species_OTU_ID_632</text>
<text x="185.4" y="213.28" font-size="6.65" fill="#1a1a1a" text-anchor="middle" style="stroke-width:0.08px">Bacteroides species_OTU_ID_679</text>
<text x="185.4" y="221.30" font-size="6.65" fill="#1a1a1a" text-anchor="middle" style="stroke-width:0.08px">Bacteroides ovatus</text>
<text x="185.4" y="229.32" font-size="6.65" fill="#1a1a1a" text-anchor="middle" style="stroke-width:0.08px">Bacteroides species_OTU_ID_1470</text>
<text x="185.4" y="237.34" font-size="6.65" fill="#1a1a1a" text-anchor="middle" style="stroke-width:0.08px">Bacteroides rodentium</text>
<text x="185.4" y="245.36" font-size="6.65" fill="#1a1a1a" text-anchor="middle" style="stroke-width:0.08px">Lachnospiraceae species_OTU_ID_28</text>
<text x="185.4" y="253.38" font-size="6.65" fill="#1a1a1a" text-anchor="middle" style="stroke-width:0.08px">Alistipes putredinis</text>
<text x="185.4" y="261.40" font-size="6.65" fill="#1a1a1a" text-anchor="middle" style="stroke-width:0.08px">Ruminococcaceae species_OTU_ID_116</text>
<text x="185.4" y="269.42" font-size="6.65" fill="#1a1a1a" text-anchor="middle" style="stroke-width:0.08px">Bacteroides species_OTU_ID_14</text>
<text x="185.4" y="277.44" font-size="6.65" fill="#1a1a1a" text-anchor="middle" style="stroke-width:0.08px">Bacteroides vulgatus ATCC 8482</text>
<text x="185.4" y="285.46" font-size="6.65" fill="#1a1a1a" text-anchor="middle" style="stroke-width:0.08px">Clostridium bolteae</text>
<text x="185.4" y="293.48" font-size="6.65" fill="#1a1a1a" text-anchor="middle" style="stroke-width:0.08px">Ruminococcaceae species_OTU_ID_1931</text>
<path d="M23 59.0 L19.5 61.5 L19.5 137.5 L23 140.0" fill="none" stroke="#777" stroke-width="0.9"/>
<path d="M23 146.5 L19.5 149.0 L19.5 183.5 L23 186.0" fill="none" stroke="#777" stroke-width="0.9"/>
<path d="M23 194.0 L19.5 196.5 L19.5 255.0 L23 257.5" fill="none" stroke="#777" stroke-width="0.9"/>
<path d="M23 266.5 L19.5 269.0 L19.5 288.0 L23 290.5" fill="none" stroke="#777" stroke-width="0.9"/>
<text x="3.2" y="102.7" font-size="12.5" fill="#111">I</text>
<text x="1" y="171.6" font-size="12.5" fill="#111">II</text>
<text transform="translate(0.3,232) scale(0.9,1)" font-size="12.5" fill="#111">III</text>
<text x="-1.3" y="283.7" font-size="12.5" fill="#111">IV</text>
<text x="76" y="309" font-size="11.9" fill="#111" text-anchor="middle">Group C</text>
<text x="294" y="309" font-size="11.9" fill="#111" text-anchor="middle">Group D</text>
<text x="355.5" y="9.3" font-size="12.5" fill="#111">B</text>
<line x1="467.75" y1="17.4" x2="480.6" y2="17.4" stroke="#111" stroke-width="1"/><circle cx="474.4" cy="17.4" r="2.6" fill="#111"/>
<text x="486" y="20.6" font-size="9.6" fill="#111">Group C</text>
<line x1="537.75" y1="17.2" x2="550.6" y2="17.2" stroke="#111" stroke-width="1"/><circle cx="544.4" cy="17.2" r="2.3" fill="#fff" stroke="#111" stroke-width="1.1"/>
<text x="556" y="20.6" font-size="9.6" fill="#111">Group D</text>
<path d="M387.75 42.00 L387.75 134.00 L519.00 134.00" fill="none" stroke="#555" stroke-width="0.9"/>
<line x1="387.75" y1="134.00" x2="389.55" y2="134.00" stroke="#555" stroke-width="0.8"/>
<text x="383.85" y="136.50" font-size="6.3" fill="#222" text-anchor="end">0</text>
<line x1="387.75" y1="111.00" x2="389.55" y2="111.00" stroke="#555" stroke-width="0.8"/>
<text x="383.85" y="113.50" font-size="6.3" fill="#222" text-anchor="end">0.05</text>
<line x1="387.75" y1="88.00" x2="389.55" y2="88.00" stroke="#555" stroke-width="0.8"/>
<text x="383.85" y="90.50" font-size="6.3" fill="#222" text-anchor="end">0.10</text>
<line x1="387.75" y1="65.00" x2="389.55" y2="65.00" stroke="#555" stroke-width="0.8"/>
<text x="383.85" y="67.50" font-size="6.3" fill="#222" text-anchor="end">0.15</text>
<line x1="387.75" y1="42.00" x2="389.55" y2="42.00" stroke="#555" stroke-width="0.8"/>
<text x="383.85" y="44.50" font-size="6.3" fill="#222" text-anchor="end">0.20</text>
<line x1="387.75" y1="134.00" x2="387.75" y2="132.20" stroke="#555" stroke-width="0.8"/>
<text x="388.25" y="143.40" font-size="6.3" fill="#222" text-anchor="middle">-10</text>
<line x1="406.50" y1="134.00" x2="406.50" y2="132.20" stroke="#555" stroke-width="0.8"/>
<text x="407.00" y="143.40" font-size="6.3" fill="#222" text-anchor="middle">-5</text>
<line x1="425.25" y1="134.00" x2="425.25" y2="132.20" stroke="#555" stroke-width="0.8"/>
<text x="425.75" y="143.40" font-size="6.3" fill="#222" text-anchor="middle">0</text>
<line x1="444.00" y1="134.00" x2="444.00" y2="132.20" stroke="#555" stroke-width="0.8"/>
<text x="444.50" y="143.40" font-size="6.3" fill="#222" text-anchor="middle">5</text>
<line x1="462.75" y1="134.00" x2="462.75" y2="132.20" stroke="#555" stroke-width="0.8"/>
<text x="463.25" y="143.40" font-size="6.3" fill="#222" text-anchor="middle">10</text>
<line x1="481.50" y1="134.00" x2="481.50" y2="132.20" stroke="#555" stroke-width="0.8"/>
<text x="482.00" y="143.40" font-size="6.3" fill="#222" text-anchor="middle">15</text>
<line x1="500.25" y1="134.00" x2="500.25" y2="132.20" stroke="#555" stroke-width="0.8"/>
<text x="500.75" y="143.40" font-size="6.3" fill="#222" text-anchor="middle">20</text>
<line x1="519.00" y1="134.00" x2="519.00" y2="132.20" stroke="#555" stroke-width="0.8"/>
<text x="519.50" y="143.40" font-size="6.3" fill="#222" text-anchor="middle">25</text>
<text x="454.18" y="153.50" font-size="8.77" fill="#111" text-anchor="middle">Days post clindamycin treatment</text>
<text transform="translate(366.05,86.80) rotate(-90)" font-size="9.65" fill="#111" text-anchor="middle">Relative abundance (%)</text>
<text x="451.77" y="42.30" font-size="7.15" fill="#111" text-anchor="middle">Lachnospiraceae species 1342</text>
<text x="520.10" y="38.00" font-size="12.6" fill="#111" text-anchor="middle">I</text>
<path d="M423.40 50.70 L427.60 50.70 L425.50 59.00 Z" fill="#111"/>
<polyline points="395.25,80.64 406.50,55.80 425.25,67.76 429.00,134.00 432.75,134.00 444.00,134.00 451.50,134.00 459.00,134.00 470.25,134.00 481.50,134.00 507.75,134.00" fill="none" stroke="#111" stroke-width="1.05"/>
<polyline points="395.25,98.12 406.50,101.89 425.25,109.39 429.00,134.00 432.75,134.00 444.00,134.00 451.50,134.00 459.00,134.00 470.25,115.14 481.50,109.16 507.75,112.84" fill="none" stroke="#111" stroke-width="1.05"/>
<circle cx="395.25" cy="80.64" r="2.85" fill="#111"/>
<circle cx="406.50" cy="55.80" r="2.85" fill="#111"/>
<circle cx="425.25" cy="67.76" r="2.85" fill="#111"/>
<circle cx="429.00" cy="134.00" r="2.85" fill="#111"/>
<circle cx="432.75" cy="134.00" r="2.85" fill="#111"/>
<circle cx="444.00" cy="134.00" r="2.85" fill="#111"/>
<circle cx="451.50" cy="134.00" r="2.85" fill="#111"/>
<circle cx="459.00" cy="134.00" r="2.85" fill="#111"/>
<circle cx="470.25" cy="134.00" r="2.85" fill="#111"/>
<circle cx="481.50" cy="134.00" r="2.85" fill="#111"/>
<circle cx="507.75" cy="134.00" r="2.85" fill="#111"/>
<circle cx="395.25" cy="98.12" r="2.4" fill="#fff" stroke="#111" stroke-width="1.1"/>
<circle cx="406.50" cy="101.89" r="2.4" fill="#fff" stroke="#111" stroke-width="1.1"/>
<circle cx="425.25" cy="109.39" r="2.4" fill="#fff" stroke="#111" stroke-width="1.1"/>
<circle cx="429.00" cy="134.00" r="2.4" fill="#fff" stroke="#111" stroke-width="1.1"/>
<circle cx="432.75" cy="134.00" r="2.4" fill="#fff" stroke="#111" stroke-width="1.1"/>
<circle cx="444.00" cy="134.00" r="2.4" fill="#fff" stroke="#111" stroke-width="1.1"/>
<circle cx="451.50" cy="134.00" r="2.4" fill="#fff" stroke="#111" stroke-width="1.1"/>
<circle cx="459.00" cy="134.00" r="2.4" fill="#fff" stroke="#111" stroke-width="1.1"/>
<circle cx="470.25" cy="115.14" r="2.4" fill="#fff" stroke="#111" stroke-width="1.1"/>
<circle cx="481.50" cy="109.16" r="2.4" fill="#fff" stroke="#111" stroke-width="1.1"/>
<circle cx="507.75" cy="112.84" r="2.4" fill="#fff" stroke="#111" stroke-width="1.1"/>
<path d="M560.50 42.00 L560.50 134.00 L691.75 134.00" fill="none" stroke="#555" stroke-width="0.9"/>
<line x1="560.50" y1="134.00" x2="562.30" y2="134.00" stroke="#555" stroke-width="0.8"/>
<text x="556.60" y="136.50" font-size="6.3" fill="#222" text-anchor="end">0</text>
<line x1="560.50" y1="111.00" x2="562.30" y2="111.00" stroke="#555" stroke-width="0.8"/>
<text x="556.60" y="113.50" font-size="6.3" fill="#222" text-anchor="end">10</text>
<line x1="560.50" y1="88.00" x2="562.30" y2="88.00" stroke="#555" stroke-width="0.8"/>
<text x="556.60" y="90.50" font-size="6.3" fill="#222" text-anchor="end">20</text>
<line x1="560.50" y1="65.00" x2="562.30" y2="65.00" stroke="#555" stroke-width="0.8"/>
<text x="556.60" y="67.50" font-size="6.3" fill="#222" text-anchor="end">30</text>
<line x1="560.50" y1="42.00" x2="562.30" y2="42.00" stroke="#555" stroke-width="0.8"/>
<text x="556.60" y="44.50" font-size="6.3" fill="#222" text-anchor="end">40</text>
<line x1="560.50" y1="134.00" x2="560.50" y2="132.20" stroke="#555" stroke-width="0.8"/>
<text x="561.00" y="143.40" font-size="6.3" fill="#222" text-anchor="middle">-10</text>
<line x1="579.25" y1="134.00" x2="579.25" y2="132.20" stroke="#555" stroke-width="0.8"/>
<text x="579.75" y="143.40" font-size="6.3" fill="#222" text-anchor="middle">-5</text>
<line x1="598.00" y1="134.00" x2="598.00" y2="132.20" stroke="#555" stroke-width="0.8"/>
<text x="598.50" y="143.40" font-size="6.3" fill="#222" text-anchor="middle">0</text>
<line x1="616.75" y1="134.00" x2="616.75" y2="132.20" stroke="#555" stroke-width="0.8"/>
<text x="617.25" y="143.40" font-size="6.3" fill="#222" text-anchor="middle">5</text>
<line x1="635.50" y1="134.00" x2="635.50" y2="132.20" stroke="#555" stroke-width="0.8"/>
<text x="636.00" y="143.40" font-size="6.3" fill="#222" text-anchor="middle">10</text>
<line x1="654.25" y1="134.00" x2="654.25" y2="132.20" stroke="#555" stroke-width="0.8"/>
<text x="654.75" y="143.40" font-size="6.3" fill="#222" text-anchor="middle">15</text>
<line x1="673.00" y1="134.00" x2="673.00" y2="132.20" stroke="#555" stroke-width="0.8"/>
<text x="673.50" y="143.40" font-size="6.3" fill="#222" text-anchor="middle">20</text>
<line x1="691.75" y1="134.00" x2="691.75" y2="132.20" stroke="#555" stroke-width="0.8"/>
<text x="692.25" y="143.40" font-size="6.3" fill="#222" text-anchor="middle">25</text>
<text x="625.92" y="153.50" font-size="8.77" fill="#111" text-anchor="middle">Days post clindamycin treatment</text>
<text transform="translate(543.50,86.80) rotate(-90)" font-size="9.65" fill="#111" text-anchor="middle">Relative abundance (%)</text>
<text x="624.52" y="42.30" font-size="7.15" fill="#111" text-anchor="middle">Bacteroides intestinalis</text>
<text x="691.40" y="38.30" font-size="12.6" fill="#111" text-anchor="middle">II</text>
<path d="M595.70 57.20 L599.90 57.20 L597.80 66.00 Z" fill="#111"/>
<polyline points="568.00,106.86 579.25,101.80 598.00,100.65 601.75,96.28 605.50,73.05 616.75,89.38 624.25,92.83 631.75,91.91 643.00,92.83 654.25,93.75 680.50,97.20" fill="none" stroke="#111" stroke-width="1.05"/>
<polyline points="568.00,111.23 579.25,111.92 598.00,104.33 601.75,86.62 605.50,81.56 616.75,89.38 624.25,92.83 631.75,57.18 643.00,76.04 654.25,83.86 680.50,101.34" fill="none" stroke="#111" stroke-width="1.05"/>
<circle cx="568.00" cy="106.86" r="2.85" fill="#111"/>
<circle cx="579.25" cy="101.80" r="2.85" fill="#111"/>
<circle cx="598.00" cy="100.65" r="2.85" fill="#111"/>
<circle cx="601.75" cy="96.28" r="2.85" fill="#111"/>
<circle cx="605.50" cy="73.05" r="2.85" fill="#111"/>
<circle cx="616.75" cy="89.38" r="2.85" fill="#111"/>
<circle cx="624.25" cy="92.83" r="2.85" fill="#111"/>
<circle cx="631.75" cy="91.91" r="2.85" fill="#111"/>
<circle cx="643.00" cy="92.83" r="2.85" fill="#111"/>
<circle cx="654.25" cy="93.75" r="2.85" fill="#111"/>
<circle cx="680.50" cy="97.20" r="2.85" fill="#111"/>
<circle cx="568.00" cy="111.23" r="2.4" fill="#fff" stroke="#111" stroke-width="1.1"/>
<circle cx="579.25" cy="111.92" r="2.4" fill="#fff" stroke="#111" stroke-width="1.1"/>
<circle cx="598.00" cy="104.33" r="2.4" fill="#fff" stroke="#111" stroke-width="1.1"/>
<circle cx="601.75" cy="86.62" r="2.4" fill="#fff" stroke="#111" stroke-width="1.1"/>
<circle cx="605.50" cy="81.56" r="2.4" fill="#fff" stroke="#111" stroke-width="1.1"/>
<circle cx="616.75" cy="89.38" r="2.4" fill="#fff" stroke="#111" stroke-width="1.1"/>
<circle cx="624.25" cy="92.83" r="2.4" fill="#fff" stroke="#111" stroke-width="1.1"/>
<circle cx="631.75" cy="57.18" r="2.4" fill="#fff" stroke="#111" stroke-width="1.1"/>
<circle cx="643.00" cy="76.04" r="2.4" fill="#fff" stroke="#111" stroke-width="1.1"/>
<circle cx="654.25" cy="83.86" r="2.4" fill="#fff" stroke="#111" stroke-width="1.1"/>
<circle cx="680.50" cy="101.34" r="2.4" fill="#fff" stroke="#111" stroke-width="1.1"/>
<path d="M387.75 182.50 L387.75 274.50 L519.00 274.50" fill="none" stroke="#555" stroke-width="0.9"/>
<line x1="387.75" y1="274.50" x2="389.55" y2="274.50" stroke="#555" stroke-width="0.8"/>
<text x="383.85" y="277.00" font-size="6.3" fill="#222" text-anchor="end">0</text>
<line x1="387.75" y1="256.10" x2="389.55" y2="256.10" stroke="#555" stroke-width="0.8"/>
<text x="383.85" y="258.60" font-size="6.3" fill="#222" text-anchor="end">2</text>
<line x1="387.75" y1="237.70" x2="389.55" y2="237.70" stroke="#555" stroke-width="0.8"/>
<text x="383.85" y="240.20" font-size="6.3" fill="#222" text-anchor="end">4</text>
<line x1="387.75" y1="219.30" x2="389.55" y2="219.30" stroke="#555" stroke-width="0.8"/>
<text x="383.85" y="221.80" font-size="6.3" fill="#222" text-anchor="end">6</text>
<line x1="387.75" y1="200.90" x2="389.55" y2="200.90" stroke="#555" stroke-width="0.8"/>
<text x="383.85" y="203.40" font-size="6.3" fill="#222" text-anchor="end">8</text>
<line x1="387.75" y1="182.50" x2="389.55" y2="182.50" stroke="#555" stroke-width="0.8"/>
<text x="383.85" y="185.00" font-size="6.3" fill="#222" text-anchor="end">10</text>
<line x1="387.75" y1="274.50" x2="387.75" y2="272.70" stroke="#555" stroke-width="0.8"/>
<text x="388.25" y="283.90" font-size="6.3" fill="#222" text-anchor="middle">-10</text>
<line x1="406.50" y1="274.50" x2="406.50" y2="272.70" stroke="#555" stroke-width="0.8"/>
<text x="407.00" y="283.90" font-size="6.3" fill="#222" text-anchor="middle">-5</text>
<line x1="425.25" y1="274.50" x2="425.25" y2="272.70" stroke="#555" stroke-width="0.8"/>
<text x="425.75" y="283.90" font-size="6.3" fill="#222" text-anchor="middle">0</text>
<line x1="444.00" y1="274.50" x2="444.00" y2="272.70" stroke="#555" stroke-width="0.8"/>
<text x="444.50" y="283.90" font-size="6.3" fill="#222" text-anchor="middle">5</text>
<line x1="462.75" y1="274.50" x2="462.75" y2="272.70" stroke="#555" stroke-width="0.8"/>
<text x="463.25" y="283.90" font-size="6.3" fill="#222" text-anchor="middle">10</text>
<line x1="481.50" y1="274.50" x2="481.50" y2="272.70" stroke="#555" stroke-width="0.8"/>
<text x="482.00" y="283.90" font-size="6.3" fill="#222" text-anchor="middle">15</text>
<line x1="500.25" y1="274.50" x2="500.25" y2="272.70" stroke="#555" stroke-width="0.8"/>
<text x="500.75" y="283.90" font-size="6.3" fill="#222" text-anchor="middle">20</text>
<line x1="519.00" y1="274.50" x2="519.00" y2="272.70" stroke="#555" stroke-width="0.8"/>
<text x="519.50" y="283.90" font-size="6.3" fill="#222" text-anchor="middle">25</text>
<text x="454.18" y="294.00" font-size="8.77" fill="#111" text-anchor="middle">Days post clindamycin treatment</text>
<text transform="translate(366.05,227.30) rotate(-90)" font-size="9.65" fill="#111" text-anchor="middle">Relative abundance (%)</text>
<text x="451.77" y="182.80" font-size="7.15" fill="#111" text-anchor="middle">Bacteroides rodentium</text>
<text x="517.00" y="179.10" font-size="12.6" fill="#111" text-anchor="middle">III</text>
<path d="M422.90 186.60 L427.10 186.60 L425.00 194.30 Z" fill="#111"/>
<polyline points="395.25,260.24 406.50,245.98 425.25,251.04 429.00,244.14 432.75,251.50 444.00,268.52 451.50,267.60 459.00,261.16 470.25,267.32 481.50,253.34 507.75,250.12" fill="none" stroke="#111" stroke-width="1.05"/>
<polyline points="395.25,188.02 406.50,218.38 425.25,199.06 429.00,258.40 432.75,256.56 444.00,245.06 451.50,262.08 459.00,270.36 470.25,242.76 481.50,255.18 507.75,224.82" fill="none" stroke="#111" stroke-width="1.05"/>
<circle cx="395.25" cy="260.24" r="2.85" fill="#111"/>
<circle cx="406.50" cy="245.98" r="2.85" fill="#111"/>
<circle cx="425.25" cy="251.04" r="2.85" fill="#111"/>
<circle cx="429.00" cy="244.14" r="2.85" fill="#111"/>
<circle cx="432.75" cy="251.50" r="2.85" fill="#111"/>
<circle cx="444.00" cy="268.52" r="2.85" fill="#111"/>
<circle cx="451.50" cy="267.60" r="2.85" fill="#111"/>
<circle cx="459.00" cy="261.16" r="2.85" fill="#111"/>
<circle cx="470.25" cy="267.32" r="2.85" fill="#111"/>
<circle cx="481.50" cy="253.34" r="2.85" fill="#111"/>
<circle cx="507.75" cy="250.12" r="2.85" fill="#111"/>
<circle cx="395.25" cy="188.02" r="2.4" fill="#fff" stroke="#111" stroke-width="1.1"/>
<circle cx="406.50" cy="218.38" r="2.4" fill="#fff" stroke="#111" stroke-width="1.1"/>
<circle cx="425.25" cy="199.06" r="2.4" fill="#fff" stroke="#111" stroke-width="1.1"/>
<circle cx="429.00" cy="258.40" r="2.4" fill="#fff" stroke="#111" stroke-width="1.1"/>
<circle cx="432.75" cy="256.56" r="2.4" fill="#fff" stroke="#111" stroke-width="1.1"/>
<circle cx="444.00" cy="245.06" r="2.4" fill="#fff" stroke="#111" stroke-width="1.1"/>
<circle cx="451.50" cy="262.08" r="2.4" fill="#fff" stroke="#111" stroke-width="1.1"/>
<circle cx="459.00" cy="270.36" r="2.4" fill="#fff" stroke="#111" stroke-width="1.1"/>
<circle cx="470.25" cy="242.76" r="2.4" fill="#fff" stroke="#111" stroke-width="1.1"/>
<circle cx="481.50" cy="255.18" r="2.4" fill="#fff" stroke="#111" stroke-width="1.1"/>
<circle cx="507.75" cy="224.82" r="2.4" fill="#fff" stroke="#111" stroke-width="1.1"/>
<path d="M560.50 182.50 L560.50 274.50 L691.75 274.50" fill="none" stroke="#555" stroke-width="0.9"/>
<line x1="560.50" y1="274.50" x2="562.30" y2="274.50" stroke="#555" stroke-width="0.8"/>
<text x="556.60" y="277.00" font-size="6.3" fill="#222" text-anchor="end">0</text>
<line x1="560.50" y1="251.50" x2="562.30" y2="251.50" stroke="#555" stroke-width="0.8"/>
<text x="556.60" y="254.00" font-size="6.3" fill="#222" text-anchor="end">1</text>
<line x1="560.50" y1="228.50" x2="562.30" y2="228.50" stroke="#555" stroke-width="0.8"/>
<text x="556.60" y="231.00" font-size="6.3" fill="#222" text-anchor="end">2</text>
<line x1="560.50" y1="205.50" x2="562.30" y2="205.50" stroke="#555" stroke-width="0.8"/>
<text x="556.60" y="208.00" font-size="6.3" fill="#222" text-anchor="end">3</text>
<line x1="560.50" y1="182.50" x2="562.30" y2="182.50" stroke="#555" stroke-width="0.8"/>
<text x="556.60" y="185.00" font-size="6.3" fill="#222" text-anchor="end">4</text>
<line x1="560.50" y1="274.50" x2="560.50" y2="272.70" stroke="#555" stroke-width="0.8"/>
<text x="561.00" y="283.90" font-size="6.3" fill="#222" text-anchor="middle">-10</text>
<line x1="579.25" y1="274.50" x2="579.25" y2="272.70" stroke="#555" stroke-width="0.8"/>
<text x="579.75" y="283.90" font-size="6.3" fill="#222" text-anchor="middle">-5</text>
<line x1="598.00" y1="274.50" x2="598.00" y2="272.70" stroke="#555" stroke-width="0.8"/>
<text x="598.50" y="283.90" font-size="6.3" fill="#222" text-anchor="middle">0</text>
<line x1="616.75" y1="274.50" x2="616.75" y2="272.70" stroke="#555" stroke-width="0.8"/>
<text x="617.25" y="283.90" font-size="6.3" fill="#222" text-anchor="middle">5</text>
<line x1="635.50" y1="274.50" x2="635.50" y2="272.70" stroke="#555" stroke-width="0.8"/>
<text x="636.00" y="283.90" font-size="6.3" fill="#222" text-anchor="middle">10</text>
<line x1="654.25" y1="274.50" x2="654.25" y2="272.70" stroke="#555" stroke-width="0.8"/>
<text x="654.75" y="283.90" font-size="6.3" fill="#222" text-anchor="middle">15</text>
<line x1="673.00" y1="274.50" x2="673.00" y2="272.70" stroke="#555" stroke-width="0.8"/>
<text x="673.50" y="283.90" font-size="6.3" fill="#222" text-anchor="middle">20</text>
<line x1="691.75" y1="274.50" x2="691.75" y2="272.70" stroke="#555" stroke-width="0.8"/>
<text x="692.25" y="283.90" font-size="6.3" fill="#222" text-anchor="middle">25</text>
<text x="625.92" y="294.00" font-size="8.77" fill="#111" text-anchor="middle">Days post clindamycin treatment</text>
<text transform="translate(543.50,227.30) rotate(-90)" font-size="9.65" fill="#111" text-anchor="middle">Relative abundance (%)</text>
<text x="624.52" y="182.80" font-size="7.15" fill="#111" text-anchor="middle">Ruminococcaceae species 1931</text>
<text x="688.80" y="179.10" font-size="12.6" fill="#111" text-anchor="middle">IV</text>
<path d="M595.90 209.90 L600.10 209.90 L598.00 218.50 Z" fill="#111"/>
<polyline points="568.00,273.35 579.25,274.50 598.00,274.50 601.75,236.55 605.50,222.75 616.75,264.84 624.25,263.00 631.75,259.55 643.00,260.70 654.25,248.74 680.50,263.46" fill="none" stroke="#111" stroke-width="1.05"/>
<polyline points="568.00,264.15 579.25,227.35 598.00,253.11 601.75,274.50 605.50,274.50 616.75,274.50 624.25,274.50 631.75,274.50 643.00,272.89 654.25,273.81 680.50,267.60" fill="none" stroke="#111" stroke-width="1.05"/>
<circle cx="568.00" cy="273.35" r="2.85" fill="#111"/>
<circle cx="579.25" cy="274.50" r="2.85" fill="#111"/>
<circle cx="598.00" cy="274.50" r="2.85" fill="#111"/>
<circle cx="601.75" cy="236.55" r="2.85" fill="#111"/>
<circle cx="605.50" cy="222.75" r="2.85" fill="#111"/>
<circle cx="616.75" cy="264.84" r="2.85" fill="#111"/>
<circle cx="624.25" cy="263.00" r="2.85" fill="#111"/>
<circle cx="631.75" cy="259.55" r="2.85" fill="#111"/>
<circle cx="643.00" cy="260.70" r="2.85" fill="#111"/>
<circle cx="654.25" cy="248.74" r="2.85" fill="#111"/>
<circle cx="680.50" cy="263.46" r="2.85" fill="#111"/>
<circle cx="568.00" cy="264.15" r="2.4" fill="#fff" stroke="#111" stroke-width="1.1"/>
<circle cx="579.25" cy="227.35" r="2.4" fill="#fff" stroke="#111" stroke-width="1.1"/>
<circle cx="598.00" cy="253.11" r="2.4" fill="#fff" stroke="#111" stroke-width="1.1"/>
<circle cx="601.75" cy="274.50" r="2.4" fill="#fff" stroke="#111" stroke-width="1.1"/>
<circle cx="605.50" cy="274.50" r="2.4" fill="#fff" stroke="#111" stroke-width="1.1"/>
<circle cx="616.75" cy="274.50" r="2.4" fill="#fff" stroke="#111" stroke-width="1.1"/>
<circle cx="624.25" cy="274.50" r="2.4" fill="#fff" stroke="#111" stroke-width="1.1"/>
<circle cx="631.75" cy="274.50" r="2.4" fill="#fff" stroke="#111" stroke-width="1.1"/>
<circle cx="643.00" cy="272.89" r="2.4" fill="#fff" stroke="#111" stroke-width="1.1"/>
<circle cx="654.25" cy="273.81" r="2.4" fill="#fff" stroke="#111" stroke-width="1.1"/>
<circle cx="680.50" cy="267.60" r="2.4" fill="#fff" stroke="#111" stroke-width="1.1"/>
</svg></body></html>
